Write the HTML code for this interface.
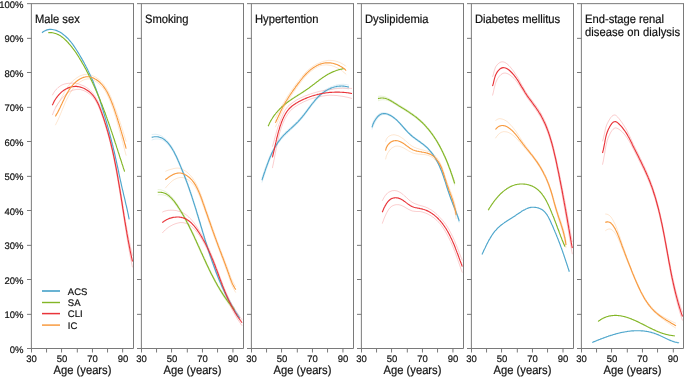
<!DOCTYPE html><html><head><meta charset="utf-8"><style>html,body{margin:0;padding:0;background:#fff;width:685px;height:377px;overflow:hidden}svg{display:block}text{font-family:"Liberation Sans",sans-serif;fill:#111}svg text{will-change:transform;text-rendering:geometricPrecision;stroke:#111;stroke-width:0.2px}</style></head><body>
<svg width="685" height="377" viewBox="0 0 685 377">
<g stroke="#7a7a7a" stroke-width="1" fill="none">
<path d="M31.37,3.65 V348.5 M27.00,348.5 H133.5 V3.65 M27.00,3.65 H134.0"/>
<line x1="27.0" y1="314.35" x2="31.5" y2="314.35"/>
<line x1="27.0" y1="279.5" x2="31.5" y2="279.5"/>
<line x1="27.0" y1="245.35" x2="31.5" y2="245.35"/>
<line x1="27.0" y1="210.5" x2="31.5" y2="210.5"/>
<line x1="27.0" y1="176.35" x2="31.5" y2="176.35"/>
<line x1="27.0" y1="141.5" x2="31.5" y2="141.5"/>
<line x1="27.0" y1="107.35" x2="31.5" y2="107.35"/>
<line x1="27.0" y1="72.5" x2="31.5" y2="72.5"/>
<line x1="27.0" y1="38.35" x2="31.5" y2="38.35"/>
<line x1="31.50" y1="348.5" x2="31.50" y2="352.5"/>
<line x1="46.55" y1="348.5" x2="46.55" y2="352.5"/>
<line x1="61.55" y1="348.5" x2="61.55" y2="352.5"/>
<line x1="77.30" y1="348.5" x2="77.30" y2="352.5"/>
<line x1="92.45" y1="348.5" x2="92.45" y2="352.5"/>
<line x1="107.55" y1="348.5" x2="107.55" y2="352.5"/>
<line x1="122.65" y1="348.5" x2="122.65" y2="352.5"/>
<path d="M141.37,3.65 V348.5 M137.00,348.5 H243.5 V3.65 M137.00,3.65 H244.0"/>
<line x1="137.0" y1="314.35" x2="141.5" y2="314.35"/>
<line x1="137.0" y1="279.5" x2="141.5" y2="279.5"/>
<line x1="137.0" y1="245.35" x2="141.5" y2="245.35"/>
<line x1="137.0" y1="210.5" x2="141.5" y2="210.5"/>
<line x1="137.0" y1="176.35" x2="141.5" y2="176.35"/>
<line x1="137.0" y1="141.5" x2="141.5" y2="141.5"/>
<line x1="137.0" y1="107.35" x2="141.5" y2="107.35"/>
<line x1="137.0" y1="72.5" x2="141.5" y2="72.5"/>
<line x1="137.0" y1="38.35" x2="141.5" y2="38.35"/>
<line x1="141.50" y1="348.5" x2="141.50" y2="352.5"/>
<line x1="156.55" y1="348.5" x2="156.55" y2="352.5"/>
<line x1="171.55" y1="348.5" x2="171.55" y2="352.5"/>
<line x1="187.30" y1="348.5" x2="187.30" y2="352.5"/>
<line x1="202.45" y1="348.5" x2="202.45" y2="352.5"/>
<line x1="217.55" y1="348.5" x2="217.55" y2="352.5"/>
<line x1="232.95" y1="348.5" x2="232.95" y2="352.5"/>
<path d="M251.37,3.65 V348.5 M247.00,348.5 H353.5 V3.65 M247.00,3.65 H354.0"/>
<line x1="247.0" y1="314.35" x2="251.5" y2="314.35"/>
<line x1="247.0" y1="279.5" x2="251.5" y2="279.5"/>
<line x1="247.0" y1="245.35" x2="251.5" y2="245.35"/>
<line x1="247.0" y1="210.5" x2="251.5" y2="210.5"/>
<line x1="247.0" y1="176.35" x2="251.5" y2="176.35"/>
<line x1="247.0" y1="141.5" x2="251.5" y2="141.5"/>
<line x1="247.0" y1="107.35" x2="251.5" y2="107.35"/>
<line x1="247.0" y1="72.5" x2="251.5" y2="72.5"/>
<line x1="247.0" y1="38.35" x2="251.5" y2="38.35"/>
<line x1="251.50" y1="348.5" x2="251.50" y2="352.5"/>
<line x1="266.55" y1="348.5" x2="266.55" y2="352.5"/>
<line x1="281.55" y1="348.5" x2="281.55" y2="352.5"/>
<line x1="297.30" y1="348.5" x2="297.30" y2="352.5"/>
<line x1="312.45" y1="348.5" x2="312.45" y2="352.5"/>
<line x1="327.55" y1="348.5" x2="327.55" y2="352.5"/>
<line x1="342.95" y1="348.5" x2="342.95" y2="352.5"/>
<path d="M361.37,3.65 V348.5 M357.00,348.5 H463.5 V3.65 M357.00,3.65 H464.0"/>
<line x1="357.0" y1="314.35" x2="361.5" y2="314.35"/>
<line x1="357.0" y1="279.5" x2="361.5" y2="279.5"/>
<line x1="357.0" y1="245.35" x2="361.5" y2="245.35"/>
<line x1="357.0" y1="210.5" x2="361.5" y2="210.5"/>
<line x1="357.0" y1="176.35" x2="361.5" y2="176.35"/>
<line x1="357.0" y1="141.5" x2="361.5" y2="141.5"/>
<line x1="357.0" y1="107.35" x2="361.5" y2="107.35"/>
<line x1="357.0" y1="72.5" x2="361.5" y2="72.5"/>
<line x1="357.0" y1="38.35" x2="361.5" y2="38.35"/>
<line x1="361.50" y1="348.5" x2="361.50" y2="352.5"/>
<line x1="376.55" y1="348.5" x2="376.55" y2="352.5"/>
<line x1="391.55" y1="348.5" x2="391.55" y2="352.5"/>
<line x1="407.30" y1="348.5" x2="407.30" y2="352.5"/>
<line x1="422.45" y1="348.5" x2="422.45" y2="352.5"/>
<line x1="437.55" y1="348.5" x2="437.55" y2="352.5"/>
<line x1="452.95" y1="348.5" x2="452.95" y2="352.5"/>
<path d="M471.37,3.65 V348.5 M467.00,348.5 H573.5 V3.65 M467.00,3.65 H574.0"/>
<line x1="467.0" y1="314.35" x2="471.5" y2="314.35"/>
<line x1="467.0" y1="279.5" x2="471.5" y2="279.5"/>
<line x1="467.0" y1="245.35" x2="471.5" y2="245.35"/>
<line x1="467.0" y1="210.5" x2="471.5" y2="210.5"/>
<line x1="467.0" y1="176.35" x2="471.5" y2="176.35"/>
<line x1="467.0" y1="141.5" x2="471.5" y2="141.5"/>
<line x1="467.0" y1="107.35" x2="471.5" y2="107.35"/>
<line x1="467.0" y1="72.5" x2="471.5" y2="72.5"/>
<line x1="467.0" y1="38.35" x2="471.5" y2="38.35"/>
<line x1="471.50" y1="348.5" x2="471.50" y2="352.5"/>
<line x1="486.55" y1="348.5" x2="486.55" y2="352.5"/>
<line x1="501.55" y1="348.5" x2="501.55" y2="352.5"/>
<line x1="517.30" y1="348.5" x2="517.30" y2="352.5"/>
<line x1="532.45" y1="348.5" x2="532.45" y2="352.5"/>
<line x1="547.55" y1="348.5" x2="547.55" y2="352.5"/>
<line x1="563.00" y1="348.5" x2="563.00" y2="352.5"/>
<path d="M581.37,3.65 V348.5 M577.00,348.5 H683.5 V3.65 M577.00,3.65 H684.0"/>
<line x1="577.0" y1="314.35" x2="581.5" y2="314.35"/>
<line x1="577.0" y1="279.5" x2="581.5" y2="279.5"/>
<line x1="577.0" y1="245.35" x2="581.5" y2="245.35"/>
<line x1="577.0" y1="210.5" x2="581.5" y2="210.5"/>
<line x1="577.0" y1="176.35" x2="581.5" y2="176.35"/>
<line x1="577.0" y1="141.5" x2="581.5" y2="141.5"/>
<line x1="577.0" y1="107.35" x2="581.5" y2="107.35"/>
<line x1="577.0" y1="72.5" x2="581.5" y2="72.5"/>
<line x1="577.0" y1="38.35" x2="581.5" y2="38.35"/>
<line x1="581.50" y1="348.5" x2="581.50" y2="352.5"/>
<line x1="596.55" y1="348.5" x2="596.55" y2="352.5"/>
<line x1="611.55" y1="348.5" x2="611.55" y2="352.5"/>
<line x1="627.30" y1="348.5" x2="627.30" y2="352.5"/>
<line x1="642.45" y1="348.5" x2="642.45" y2="352.5"/>
<line x1="657.55" y1="348.5" x2="657.55" y2="352.5"/>
<line x1="673.30" y1="348.5" x2="673.30" y2="352.5"/>
</g>
<g font-size="9.5" text-anchor="end">
<text x="23.5" y="352.6">0%</text>
<text x="23.5" y="318.1">10%</text>
<text x="23.5" y="283.6">20%</text>
<text x="23.5" y="249.1">30%</text>
<text x="23.5" y="214.6">40%</text>
<text x="23.5" y="180.1">50%</text>
<text x="23.5" y="145.6">60%</text>
<text x="23.5" y="111.1">70%</text>
<text x="23.5" y="76.6">80%</text>
<text x="23.5" y="42.1">90%</text>
<text x="23.5" y="7.6">100%</text>
</g>
<g font-size="9.5" text-anchor="middle">
<text x="31.50" y="362.2">30</text>
<text x="62.00" y="362.2">50</text>
<text x="92.50" y="362.2">70</text>
<text x="123.00" y="362.2">90</text>
<text x="141.50" y="362.2">30</text>
<text x="172.00" y="362.2">50</text>
<text x="202.50" y="362.2">70</text>
<text x="233.00" y="362.2">90</text>
<text x="251.50" y="362.2">30</text>
<text x="282.00" y="362.2">50</text>
<text x="312.50" y="362.2">70</text>
<text x="343.00" y="362.2">90</text>
<text x="361.50" y="362.2">30</text>
<text x="392.00" y="362.2">50</text>
<text x="422.50" y="362.2">70</text>
<text x="453.00" y="362.2">90</text>
<text x="471.50" y="362.2">30</text>
<text x="502.00" y="362.2">50</text>
<text x="532.50" y="362.2">70</text>
<text x="563.00" y="362.2">90</text>
<text x="581.50" y="362.2">30</text>
<text x="612.00" y="362.2">50</text>
<text x="642.50" y="362.2">70</text>
<text x="673.00" y="362.2">90</text>
</g>
<g font-size="11.2" text-anchor="middle">
<text transform="translate(82.5,373.8) scale(1,1.08)">Age (years)</text>
<text transform="translate(192.5,373.8) scale(1,1.08)">Age (years)</text>
<text transform="translate(302.5,373.8) scale(1,1.08)">Age (years)</text>
<text transform="translate(412.5,373.8) scale(1,1.08)">Age (years)</text>
<text transform="translate(522.5,373.8) scale(1,1.08)">Age (years)</text>
<text transform="translate(632.5,373.8) scale(1,1.08)">Age (years)</text>
</g>
<g font-size="11.2">
<text transform="translate(35.0,22.6) scale(1,1.08)">Male sex</text>
<text transform="translate(145.0,22.6) scale(1,1.08)">Smoking</text>
<text transform="translate(255.0,22.6) scale(1,1.08)">Hypertention</text>
<text transform="translate(365.0,22.6) scale(1,1.08)">Dyslipidemia</text>
<text transform="translate(475.0,22.6) scale(1,1.08)">Diabetes mellitus</text>
<text transform="translate(585.0,22.6) scale(1,1.08)">End-stage renal</text>
<text transform="translate(585.0,36.5) scale(1,1.08)" letter-spacing="0.07">disease on dialysis</text>
</g>
<g stroke-width="1.5">
<line x1="42" y1="291.0" x2="60" y2="291.0" stroke="#4ea6cc" stroke-width="1.7"/>
<text x="67.8" y="294.5" font-size="9.5" stroke="none">ACS</text>
<line x1="42" y1="302.5" x2="60" y2="302.5" stroke="#83b626" stroke-width="1.4"/>
<text x="67.8" y="305.9" font-size="9.5" stroke="none">SA</text>
<line x1="42" y1="313.6" x2="60" y2="313.6" stroke="#e9343a" stroke-width="1.5"/>
<text x="67.8" y="317.3" font-size="9.5" stroke="none">CLI</text>
<line x1="42" y1="325.1" x2="60" y2="325.1" stroke="#f89b40" stroke-width="1.5"/>
<text x="67.8" y="328.7" font-size="9.5" stroke="none">IC</text>
</g>
<g fill="none" stroke-width="0.9" stroke-opacity="0.28">
<path d="M52.3,95.3 52.9,94.2 53.5,93.2 54.1,92.2 54.8,91.1 55.6,90.2 56.4,89.2 57.3,88.4 58.2,87.5 59.2,86.8 60.2,86.0 61.2,85.4 62.4,84.8 63.5,84.4 64.7,84.0 65.9,83.7 67.2,83.5 68.4,83.3 69.7,83.3 71.1,83.2 72.4,83.1 73.7,83.1 75.1,83.2 76.4,83.4 77.8,83.7 79.1,84.1 80.4,84.6 81.7,85.1 83.0,85.6 84.3,86.2 85.5,86.9 86.7,87.7 87.9,88.5 89.0,89.4 90.1,90.4 91.1,91.4 92.1,92.5 93.0,93.5 93.8,94.7 94.7,95.8 95.4,97.0 96.1,98.2 96.8,99.4 97.5,100.6 98.1,101.9 98.7,103.2 99.2,104.5 99.8,105.8 100.3,107.1 100.8,108.4 101.3,109.8 101.8,111.1 102.2,112.4 102.7,113.8 103.2,115.1 103.6,116.5 104.1,117.8 104.5,119.2 104.9,120.5 105.4,121.8 105.8,123.2 106.2,124.5 106.6,125.9 107.0,127.2 107.4,128.6 107.8,129.9 108.2,131.3 108.5,132.7 108.9,134.0 109.3,135.4 109.6,136.7 110.0,138.1 110.3,139.4 110.7,140.7 111.0,142.1 111.3,143.4 111.6,144.7 112.0,146.1 112.3,147.4 112.6,148.7 112.9,150.1 113.2,151.4 113.5,152.8 113.8,154.1 114.1,155.5 114.4,156.8 114.6,158.1 114.9,159.5 115.2,160.8 115.5,162.2 115.7,163.5 116.0,164.9 116.3,166.2 116.5,167.6 116.8,168.9 117.0,170.3 117.3,171.6 117.5,173.0 117.8,174.4 118.0,175.7 118.2,177.1 118.5,178.4 118.7,179.8 118.9,181.1 119.2,182.5 119.4,183.9 119.6,185.2 119.9,186.6 120.1,187.9 120.3,189.3 120.5,190.7 120.8,192.0 121.0,193.4 121.2,194.7 121.4,196.1 121.6,197.5 121.9,198.8 122.1,200.2 122.3,201.6 122.5,202.9 122.7,204.3 122.9,205.7 123.2,207.0 123.4,208.4 123.6,209.7 123.8,211.1 124.0,212.5 124.3,213.8 124.5,215.2 124.7,216.6 124.9,217.9 125.2,219.3 125.4,220.6 125.6,221.9 125.9,223.2 126.1,224.5 126.3,225.8 126.6,227.1 126.8,228.4 127.0,229.7 127.3,231.1 127.5,232.4 127.8,233.7 128.0,235.0 128.3,236.3 128.5,237.6 128.8,238.9 129.1,240.2 129.3,241.5 129.6,242.8 129.9,244.1 130.1,245.4 130.4,246.7 130.7,247.9 131.0,249.2 131.3,250.5 131.6,251.8 131.9,253.1 132.2,254.4 132.5,255.7" stroke="#e9343a" stroke-opacity="0.28"/>
<path d="M52.3,115.1 52.9,113.7 53.5,112.2 54.1,110.7 54.8,109.3 55.6,107.8 56.4,106.3 57.3,104.8 58.2,103.4 59.2,102.0 60.2,100.6 61.2,99.2 62.4,97.9 63.5,96.7 64.7,95.5 65.9,94.4 67.2,93.3 68.4,92.4 69.7,91.5 71.1,90.9 72.4,90.4 73.7,90.0 75.1,89.7 76.4,89.5 77.8,89.4 79.1,89.4 80.4,89.5 81.7,89.9 83.0,90.3 84.3,90.8 85.5,91.4 86.7,92.1 87.9,92.8 89.0,93.6 90.1,94.5 91.1,95.4 92.1,96.3 93.0,97.3 93.8,98.4 94.7,99.5 95.4,100.6 96.1,101.8 96.8,103.1 97.5,104.3 98.1,105.6 98.7,106.9 99.2,108.2 99.8,109.5 100.3,110.9 100.8,112.2 101.3,113.5 101.8,114.9 102.2,116.2 102.7,117.6 103.2,118.9 103.6,120.3 104.1,121.7 104.5,123.0 104.9,124.4 105.4,125.7 105.8,127.1 106.2,128.4 106.6,129.8 107.0,131.2 107.4,132.5 107.8,133.9 108.2,135.2 108.5,136.6 108.9,138.0 109.3,139.3 109.6,140.7 110.0,142.1 110.3,143.5 110.7,144.9 111.0,146.3 111.3,147.7 111.6,149.1 112.0,150.5 112.3,151.9 112.6,153.3 112.9,154.7 113.2,156.1 113.5,157.5 113.8,158.9 114.1,160.3 114.4,161.7 114.6,163.1 114.9,164.5 115.2,165.9 115.5,167.3 115.7,168.7 116.0,170.1 116.3,171.5 116.5,172.9 116.8,174.3 117.0,175.7 117.3,177.1 117.5,178.5 117.8,179.9 118.0,181.3 118.2,182.7 118.5,184.1 118.7,185.5 118.9,186.9 119.2,188.3 119.4,189.7 119.6,191.1 119.9,192.6 120.1,194.0 120.3,195.4 120.5,196.8 120.8,198.2 121.0,199.6 121.2,201.0 121.4,202.4 121.6,203.8 121.9,205.2 122.1,206.6 122.3,208.0 122.5,209.4 122.7,210.8 122.9,212.2 123.2,213.6 123.4,215.1 123.6,216.5 123.8,217.9 124.0,219.3 124.3,220.7 124.5,222.1 124.7,223.5 124.9,224.9 125.2,226.4 125.4,227.8 125.6,229.3 125.9,230.7 126.1,232.2 126.3,233.6 126.6,235.1 126.8,236.6 127.0,238.0 127.3,239.5 127.5,240.9 127.8,242.4 128.0,243.9 128.3,245.3 128.5,246.8 128.8,248.2 129.1,249.7 129.3,251.2 129.6,252.6 129.9,254.1 130.1,255.6 130.4,257.0 130.7,258.5 131.0,260.0 131.3,261.5 131.6,262.9 131.9,264.4 132.2,265.9 132.5,267.3" stroke="#e9343a" stroke-opacity="0.28"/>
<path d="M55.3,107.4 55.8,106.8 56.2,106.2 56.6,105.6 57.1,105.0 57.5,104.4 57.9,103.8 58.3,103.1 58.7,102.5 59.1,101.8 59.5,101.1 59.9,100.5 60.3,99.8 60.6,99.1 61.0,98.4 61.4,97.7 61.8,97.0 62.1,96.4 62.5,95.7 62.9,95.0 63.3,94.3 63.7,93.6 64.0,92.9 64.4,92.2 64.8,91.5 65.2,90.8 65.6,90.1 66.0,89.4 66.5,88.8 66.9,88.1 67.3,87.4 67.8,86.8 68.2,86.1 68.7,85.5 69.1,84.9 69.6,84.3 70.1,83.7 70.6,83.1 71.2,82.5 71.7,82.0 72.3,81.4 72.8,80.9 73.4,80.4 74.0,80.0 74.6,79.5 75.3,79.0 75.9,78.5 76.6,78.0 77.3,77.5 78.0,77.1 78.8,76.6 79.5,76.2 80.3,75.8 81.1,75.5 81.9,75.2 82.7,75.0 83.5,74.7 84.3,74.6 85.1,74.5 86.0,74.4 86.8,74.4 87.6,74.5 88.5,74.6 89.3,74.8 90.1,75.0 91.0,75.2 91.8,75.4 92.6,75.7 93.4,76.1 94.2,76.4 94.9,76.8 95.7,77.2 96.4,77.7 97.1,78.2 97.8,78.7 98.5,79.2 99.1,79.7 99.8,80.3 100.4,80.8 101.0,81.4 101.6,82.0 102.2,82.7 102.7,83.3 103.3,84.0 103.8,84.7 104.3,85.4 104.8,86.1 105.3,86.8 105.8,87.5 106.2,88.1 106.7,88.9 107.1,89.6 107.5,90.3 107.9,91.0 108.3,91.8 108.7,92.5 109.1,93.3 109.5,94.1 109.9,94.9 110.2,95.6 110.6,96.4 110.9,97.2 111.3,98.0 111.6,98.8 111.9,99.6 112.2,100.4 112.6,101.2 112.9,102.0 113.2,102.8 113.5,103.6 113.8,104.4 114.1,105.2 114.4,106.0 114.7,106.8 114.9,107.6 115.2,108.4 115.5,109.1 115.8,109.8 116.0,110.6 116.3,111.3 116.6,112.0 116.9,112.8 117.1,113.5 117.4,114.3 117.6,115.0 117.9,115.7 118.1,116.5 118.4,117.2 118.6,118.0 118.9,118.7 119.1,119.4 119.4,120.2 119.6,120.9 119.9,121.7 120.1,122.4 120.4,123.2 120.6,123.9 120.8,124.6 121.1,125.4 121.3,126.1 121.6,126.9 121.8,127.7 122.0,128.4 122.3,129.2 122.5,129.9 122.8,130.7 123.0,131.4 123.2,132.2 123.5,133.0 123.7,133.7 124.0,134.5 124.2,135.3 124.4,136.1 124.7,136.8 124.9,137.6 125.2,138.4 125.4,139.2 125.7,140.0 125.9,140.7 126.2,141.6" stroke="#f89b40" stroke-opacity="0.28"/>
<path d="M55.3,125.2 55.8,124.4 56.2,123.5 56.6,122.6 57.1,121.8 57.5,120.9 57.9,120.0 58.3,119.1 58.7,118.2 59.1,117.4 59.5,116.5 59.9,115.5 60.3,114.6 60.6,113.7 61.0,112.8 61.4,111.9 61.8,111.0 62.1,110.1 62.5,109.1 62.9,108.2 63.3,107.3 63.7,106.4 64.0,105.5 64.4,104.5 64.8,103.6 65.2,102.7 65.6,101.8 66.0,100.9 66.5,100.0 66.9,99.2 67.3,98.3 67.8,97.4 68.2,96.5 68.7,95.7 69.1,94.8 69.6,94.0 70.1,93.1 70.6,92.3 71.2,91.5 71.7,90.6 72.3,89.8 72.8,89.0 73.4,88.2 74.0,87.4 74.6,86.7 75.3,86.0 75.9,85.3 76.6,84.7 77.3,84.0 78.0,83.4 78.8,82.9 79.5,82.3 80.3,81.8 81.1,81.3 81.9,80.8 82.7,80.4 83.5,80.0 84.3,79.7 85.1,79.4 86.0,79.2 86.8,79.0 87.6,78.9 88.5,78.9 89.3,78.9 90.1,79.0 91.0,79.2 91.8,79.5 92.6,79.8 93.4,80.1 94.2,80.5 94.9,80.9 95.7,81.4 96.4,81.9 97.1,82.3 97.8,82.9 98.5,83.4 99.1,83.9 99.8,84.5 100.4,85.1 101.0,85.7 101.6,86.4 102.2,87.0 102.7,87.7 103.3,88.3 103.8,89.0 104.3,89.8 104.8,90.5 105.3,91.2 105.8,92.0 106.2,92.9 106.7,93.7 107.1,94.5 107.5,95.4 107.9,96.2 108.3,97.1 108.7,97.9 109.1,98.8 109.5,99.7 109.9,100.5 110.2,101.4 110.6,102.3 110.9,103.2 111.3,104.1 111.6,104.9 111.9,105.8 112.2,106.7 112.6,107.6 112.9,108.5 113.2,109.4 113.5,110.2 113.8,111.1 114.1,112.0 114.4,112.9 114.7,113.7 114.9,114.6 115.2,115.5 115.5,116.4 115.8,117.3 116.0,118.2 116.3,119.1 116.6,120.1 116.9,121.0 117.1,121.9 117.4,122.8 117.6,123.7 117.9,124.6 118.1,125.5 118.4,126.4 118.6,127.3 118.9,128.2 119.1,129.1 119.4,130.0 119.6,130.9 119.9,131.8 120.1,132.7 120.4,133.6 120.6,134.5 120.8,135.4 121.1,136.3 121.3,137.2 121.6,138.1 121.8,139.0 122.0,139.9 122.3,140.8 122.5,141.7 122.8,142.6 123.0,143.5 123.2,144.4 123.5,145.4 123.7,146.3 124.0,147.2 124.2,148.1 124.4,149.1 124.7,150.0 124.9,150.9 125.2,151.9 125.4,152.8 125.7,153.8 125.9,154.7 126.2,155.6" stroke="#f89b40" stroke-opacity="0.28"/>
<path d="M151.7,134.6 153.1,134.4 154.5,134.3 155.8,134.3 157.1,134.5 158.3,134.8 159.5,135.2 160.7,135.6 161.8,136.2 162.9,136.9 163.9,137.7 164.9,138.5 165.8,139.4 166.8,140.2 167.7,141.2 168.5,142.2 169.3,143.2 170.1,144.3 170.9,145.3 171.6,146.4 172.3,147.6 173.0,148.7 173.7,149.9 174.3,151.1 174.9,152.3 175.5,153.5 176.1,154.7 176.7,155.9 177.2,157.1 177.8,158.4 178.3,159.6 178.9,160.8 179.4,162.1 179.9,163.3 180.4,164.5 180.9,165.7 181.4,166.9 181.9,168.2 182.4,169.4 182.9,170.6 183.4,171.8 183.9,173.0 184.4,174.2 184.8,175.4 185.3,176.7 185.8,177.9 186.2,179.1 186.7,180.3 187.1,181.5 187.6,182.7 188.0,184.0 188.4,185.2 188.9,186.4 189.3,187.7 189.7,188.9 190.1,190.1 190.6,191.4 191.0,192.6 191.4,193.9 191.8,195.1 192.2,196.3 192.6,197.6 193.0,198.8 193.4,200.1 193.8,201.3 194.2,202.6 194.6,203.8 195.0,205.1 195.4,206.3 195.8,207.6 196.2,208.9 196.5,210.1 196.9,211.4 197.3,212.6 197.7,213.9 198.1,215.1 198.5,216.4 198.8,217.7 199.2,218.9 199.6,220.2 200.0,221.5 200.4,222.7 200.7,224.0 201.1,225.2 201.5,226.5 201.9,227.8 202.2,229.0 202.6,230.3 203.0,231.6 203.4,232.8 203.8,234.1 204.2,235.4 204.5,236.6 204.9,237.9 205.3,239.1 205.7,240.4 206.1,241.7 206.5,242.9 206.9,244.2 207.3,245.4 207.7,246.7 208.1,247.9 208.5,249.2 208.9,250.4 209.3,251.7 209.7,252.9 210.1,254.2 210.5,255.4 211.0,256.7 211.4,257.9 211.8,259.2 212.2,260.4 212.7,261.7 213.1,262.9 213.6,264.1 214.0,265.4 214.5,266.6 214.9,267.8 215.4,269.1 215.8,270.3 216.3,271.5 216.8,272.7 217.3,274.0 217.7,275.2 218.2,276.4 218.7,277.6 219.2,278.8 219.7,280.0 220.2,281.2 220.8,282.4 221.3,283.6 221.8,284.8 222.3,285.9 222.9,287.1 223.4,288.3 224.0,289.4 224.5,290.6 225.1,291.7 225.7,292.9 226.3,294.0 226.9,295.2 227.5,296.3 228.1,297.4 228.7,298.6 229.3,299.7 229.9,300.8 230.6,302.0 231.2,303.1 231.8,304.2 232.5,305.3 233.2,306.4 233.9,307.5 234.5,308.6 235.2,309.7 235.9,310.8 236.7,311.8 237.4,312.9 238.1,314.0 238.9,315.1 239.6,316.1" stroke="#4ea6cc" stroke-opacity="0.2"/>
<path d="M151.7,140.1 153.1,139.6 154.5,139.2 155.8,139.0 157.1,139.0 158.3,139.0 159.5,139.2 160.7,139.5 161.8,139.8 162.9,140.3 163.9,140.9 164.9,141.5 165.8,142.4 166.8,143.2 167.7,144.2 168.5,145.1 169.3,146.2 170.1,147.2 170.9,148.3 171.6,149.4 172.3,150.5 173.0,151.6 173.7,152.8 174.3,154.0 174.9,155.2 175.5,156.4 176.1,157.6 176.7,158.8 177.2,160.0 177.8,161.2 178.3,162.5 178.9,163.7 179.4,164.9 179.9,166.1 180.4,167.3 180.9,168.5 181.4,169.8 181.9,171.0 182.4,172.2 182.9,173.4 183.4,174.6 183.9,175.8 184.4,177.0 184.8,178.2 185.3,179.4 185.8,180.6 186.2,181.9 186.7,183.1 187.1,184.3 187.6,185.5 188.0,186.7 188.4,187.9 188.9,189.2 189.3,190.4 189.7,191.6 190.1,192.9 190.6,194.1 191.0,195.3 191.4,196.6 191.8,197.8 192.2,199.0 192.6,200.3 193.0,201.5 193.4,202.8 193.8,204.0 194.2,205.3 194.6,206.5 195.0,207.8 195.4,209.0 195.8,210.3 196.2,211.5 196.5,212.8 196.9,214.0 197.3,215.3 197.7,216.5 198.1,217.8 198.5,219.0 198.8,220.3 199.2,221.6 199.6,222.8 200.0,224.1 200.4,225.3 200.7,226.6 201.1,227.9 201.5,229.1 201.9,230.4 202.2,231.6 202.6,232.9 203.0,234.1 203.4,235.4 203.8,236.7 204.2,237.9 204.5,239.2 204.9,240.4 205.3,241.7 205.7,243.0 206.1,244.2 206.5,245.5 206.9,246.7 207.3,248.0 207.7,249.2 208.1,250.5 208.5,251.7 208.9,253.0 209.3,254.2 209.7,255.5 210.1,256.7 210.5,257.9 211.0,259.2 211.4,260.4 211.8,261.7 212.2,262.9 212.7,264.1 213.1,265.4 213.6,266.6 214.0,267.8 214.5,269.1 214.9,270.3 215.4,271.5 215.8,272.7 216.3,274.0 216.8,275.2 217.3,276.4 217.7,277.6 218.2,278.8 218.7,280.0 219.2,281.2 219.7,282.4 220.2,283.6 220.8,284.9 221.3,286.1 221.8,287.3 222.3,288.5 222.9,289.7 223.4,290.9 224.0,292.1 224.5,293.3 225.1,294.5 225.7,295.7 226.3,296.9 226.9,298.1 227.5,299.3 228.1,300.5 228.7,301.7 229.3,302.8 229.9,304.0 230.6,305.2 231.2,306.4 231.8,307.5 232.5,308.7 233.2,309.8 233.9,311.0 234.5,312.1 235.2,313.3 235.9,314.4 236.7,315.6 237.4,316.7 238.1,317.8 238.9,319.0 239.6,320.1" stroke="#4ea6cc" stroke-opacity="0.2"/>
<path d="M157.7,189.6 158.7,189.6 159.6,189.7 160.6,189.8 161.5,190.0 162.4,190.3 163.2,190.6 164.0,190.9 164.8,191.3 165.6,191.7 166.4,192.2 167.1,192.7 167.8,193.2 168.5,193.8 169.2,194.4 169.8,195.0 170.5,195.7 171.1,196.3 171.7,196.9 172.3,197.6 172.9,198.3 173.5,199.0 174.1,199.7 174.6,200.5 175.2,201.2 175.7,201.9 176.2,202.7 176.8,203.5 177.3,204.2 177.8,205.0 178.3,205.7 178.8,206.5 179.3,207.3 179.8,208.1 180.3,208.8 180.8,209.6 181.2,210.4 181.7,211.2 182.2,212.0 182.6,212.8 183.1,213.5 183.6,214.3 184.0,215.1 184.4,215.9 184.9,216.7 185.3,217.5 185.8,218.3 186.2,219.1 186.6,220.0 187.0,220.8 187.5,221.6 187.9,222.4 188.3,223.2 188.7,224.0 189.1,224.8 189.5,225.7 189.9,226.5 190.3,227.3 190.7,228.1 191.1,228.9 191.5,229.8 191.9,230.6 192.3,231.4 192.7,232.2 193.1,233.1 193.5,233.9 193.9,234.7 194.3,235.5 194.6,236.4 195.0,237.2 195.4,238.0 195.8,238.9 196.2,239.7 196.5,240.5 196.9,241.4 197.3,242.2 197.7,243.0 198.0,243.9 198.4,244.7 198.8,245.5 199.2,246.4 199.5,247.2 199.9,248.0 200.3,248.9 200.7,249.7 201.0,250.5 201.4,251.3 201.8,252.2 202.2,253.0 202.5,253.8 202.9,254.7 203.3,255.5 203.7,256.3 204.0,257.2 204.4,258.0 204.8,258.8 205.2,259.6 205.6,260.5 205.9,261.3 206.3,262.1 206.7,263.0 207.1,263.8 207.5,264.6 207.9,265.4 208.3,266.2 208.6,267.1 209.0,267.9 209.4,268.7 209.8,269.5 210.2,270.3 210.6,271.1 211.0,272.0 211.4,272.8 211.8,273.6 212.3,274.4 212.7,275.2 213.1,276.0 213.5,276.8 213.9,277.6 214.3,278.4 214.8,279.2 215.2,280.0 215.6,280.8 216.1,281.6 216.5,282.4 217.0,283.2 217.4,284.0 217.8,284.7 218.3,285.5 218.8,286.3 219.2,287.1 219.7,287.9 220.1,288.6 220.6,289.4 221.1,290.1 221.6,290.9 222.1,291.6 222.5,292.3 223.0,293.1 223.5,293.8 224.0,294.5 224.5,295.3 225.0,296.0 225.6,296.7 226.1,297.4 226.6,298.1 227.1,298.8 227.7,299.5 228.2,300.2 228.7,300.9 229.3,301.6 229.9,302.3 230.4,303.0 231.0,303.7 231.5,304.4 232.1,305.1 232.7,305.7 233.3,306.4 233.9,307.1 234.5,307.7" stroke="#83b626" stroke-opacity="0.2"/>
<path d="M157.7,195.0 158.7,194.8 159.6,194.7 160.6,194.7 161.5,194.7 162.4,194.8 163.2,194.9 164.0,195.1 164.8,195.3 165.6,195.6 166.4,195.9 167.1,196.3 167.8,196.7 168.5,197.1 169.2,197.6 169.8,198.1 170.5,198.7 171.1,199.3 171.7,199.9 172.3,200.6 172.9,201.3 173.5,202.0 174.1,202.7 174.6,203.4 175.2,204.1 175.7,204.9 176.2,205.6 176.8,206.4 177.3,207.1 177.8,207.9 178.3,208.6 178.8,209.4 179.3,210.2 179.8,210.9 180.3,211.7 180.8,212.5 181.2,213.3 181.7,214.0 182.2,214.8 182.6,215.6 183.1,216.4 183.6,217.2 184.0,218.0 184.4,218.8 184.9,219.6 185.3,220.4 185.8,221.2 186.2,222.0 186.6,222.8 187.0,223.6 187.5,224.4 187.9,225.2 188.3,226.0 188.7,226.8 189.1,227.6 189.5,228.4 189.9,229.2 190.3,230.0 190.7,230.9 191.1,231.7 191.5,232.5 191.9,233.3 192.3,234.1 192.7,235.0 193.1,235.8 193.5,236.6 193.9,237.4 194.3,238.3 194.6,239.1 195.0,239.9 195.4,240.7 195.8,241.6 196.2,242.4 196.5,243.2 196.9,244.0 197.3,244.9 197.7,245.7 198.0,246.5 198.4,247.3 198.8,248.2 199.2,249.0 199.5,249.8 199.9,250.7 200.3,251.5 200.7,252.3 201.0,253.1 201.4,254.0 201.8,254.8 202.2,255.6 202.5,256.5 202.9,257.3 203.3,258.1 203.7,258.9 204.0,259.8 204.4,260.6 204.8,261.4 205.2,262.2 205.6,263.0 205.9,263.9 206.3,264.7 206.7,265.5 207.1,266.3 207.5,267.1 207.9,268.0 208.3,268.8 208.6,269.6 209.0,270.4 209.4,271.2 209.8,272.0 210.2,272.8 210.6,273.7 211.0,274.5 211.4,275.3 211.8,276.1 212.3,276.9 212.7,277.7 213.1,278.5 213.5,279.3 213.9,280.1 214.3,280.9 214.8,281.7 215.2,282.5 215.6,283.2 216.1,284.0 216.5,284.8 217.0,285.6 217.4,286.4 217.8,287.2 218.3,288.0 218.8,288.7 219.2,289.5 219.7,290.3 220.1,291.1 220.6,291.8 221.1,292.6 221.6,293.4 222.1,294.2 222.5,295.0 223.0,295.8 223.5,296.6 224.0,297.4 224.5,298.1 225.0,298.9 225.6,299.7 226.1,300.5 226.6,301.2 227.1,302.0 227.7,302.7 228.2,303.5 228.7,304.3 229.3,305.0 229.9,305.8 230.4,306.5 231.0,307.3 231.5,308.0 232.1,308.8 232.7,309.5 233.3,310.2 233.9,311.0 234.5,311.7" stroke="#83b626" stroke-opacity="0.2"/>
<path d="M162.3,212.2 163.0,211.8 163.7,211.5 164.5,211.2 165.3,211.0 166.1,210.8 166.9,210.6 167.7,210.4 168.6,210.3 169.5,210.3 170.4,210.2 171.3,210.2 172.2,210.2 173.1,210.2 174.0,210.3 175.0,210.4 175.9,210.5 176.8,210.7 177.7,211.0 178.6,211.2 179.5,211.5 180.4,211.8 181.3,212.1 182.1,212.5 183.0,212.9 183.8,213.3 184.6,213.8 185.4,214.3 186.1,214.9 186.9,215.4 187.6,216.0 188.3,216.7 189.0,217.3 189.7,218.0 190.4,218.7 191.1,219.3 191.7,220.0 192.3,220.8 192.9,221.5 193.6,222.3 194.2,223.0 194.7,223.8 195.3,224.6 195.9,225.4 196.4,226.2 197.0,227.0 197.5,227.9 198.0,228.7 198.5,229.5 199.1,230.4 199.6,231.2 200.1,232.1 200.6,232.8 201.0,233.6 201.5,234.4 202.0,235.2 202.4,236.0 202.9,236.8 203.3,237.6 203.8,238.4 204.2,239.2 204.7,240.0 205.1,240.8 205.5,241.7 205.9,242.5 206.3,243.3 206.7,244.1 207.1,244.9 207.5,245.8 207.9,246.6 208.3,247.4 208.7,248.2 209.1,249.1 209.4,249.9 209.8,250.7 210.2,251.6 210.5,252.4 210.9,253.3 211.2,254.1 211.6,254.9 211.9,255.8 212.3,256.6 212.6,257.5 213.0,258.3 213.3,259.2 213.6,260.0 214.0,260.9 214.3,261.7 214.6,262.6 215.0,263.4 215.3,264.3 215.6,265.1 215.9,266.0 216.2,266.8 216.6,267.7 216.9,268.5 217.2,269.4 217.5,270.2 217.8,271.1 218.2,271.9 218.5,272.8 218.8,273.6 219.1,274.5 219.4,275.4 219.7,276.2 220.1,277.1 220.4,277.9 220.7,278.8 221.0,279.6 221.3,280.5 221.7,281.3 222.0,282.2 222.3,283.0 222.6,283.9 223.0,284.7 223.3,285.6 223.6,286.4 224.0,287.2 224.3,288.1 224.7,288.9 225.0,289.8 225.3,290.6 225.7,291.4 226.0,292.2 226.4,293.0 226.8,293.8 227.1,294.6 227.5,295.4 227.9,296.2 228.2,297.0 228.6,297.8 229.0,298.6 229.4,299.4 229.8,300.2 230.2,301.0 230.6,301.8 231.0,302.6 231.4,303.4 231.8,304.1 232.2,304.9 232.7,305.7 233.1,306.5 233.6,307.2 234.0,308.0 234.5,308.7 234.9,309.5 235.4,310.3 235.9,311.0 236.3,311.7 236.8,312.5 237.3,313.2 237.8,314.0 238.3,314.7 238.8,315.4 239.4,316.1 239.9,316.9 240.4,317.6 241.0,318.3 241.5,319.0 242.1,319.7" stroke="#e9343a" stroke-opacity="0.28"/>
<path d="M162.3,233.0 163.0,232.2 163.7,231.4 164.5,230.7 165.3,229.9 166.1,229.2 166.9,228.5 167.7,227.9 168.6,227.2 169.5,226.6 170.4,226.1 171.3,225.6 172.2,225.1 173.1,224.7 174.0,224.3 175.0,223.9 175.9,223.6 176.8,223.3 177.7,223.1 178.6,222.9 179.5,222.7 180.4,222.6 181.3,222.6 182.1,222.6 183.0,222.7 183.8,222.8 184.6,223.0 185.4,223.2 186.1,223.4 186.9,223.7 187.6,224.0 188.3,224.3 189.0,224.7 189.7,225.1 190.4,225.6 191.1,226.1 191.7,226.6 192.3,227.2 192.9,227.7 193.6,228.3 194.2,228.9 194.7,229.6 195.3,230.2 195.9,230.9 196.4,231.6 197.0,232.2 197.5,232.9 198.0,233.6 198.5,234.3 199.1,235.0 199.6,235.7 200.1,236.5 200.6,237.2 201.0,238.0 201.5,238.8 202.0,239.6 202.4,240.4 202.9,241.2 203.3,242.0 203.8,242.8 204.2,243.6 204.7,244.4 205.1,245.2 205.5,246.0 205.9,246.8 206.3,247.6 206.7,248.4 207.1,249.2 207.5,250.0 207.9,250.9 208.3,251.7 208.7,252.5 209.1,253.3 209.4,254.2 209.8,255.0 210.2,255.8 210.5,256.6 210.9,257.5 211.2,258.3 211.6,259.1 211.9,260.0 212.3,260.8 212.6,261.7 213.0,262.5 213.3,263.3 213.6,264.2 214.0,265.0 214.3,265.9 214.6,266.7 215.0,267.6 215.3,268.4 215.6,269.3 215.9,270.1 216.2,271.0 216.6,271.8 216.9,272.7 217.2,273.5 217.5,274.4 217.8,275.2 218.2,276.0 218.5,276.9 218.8,277.7 219.1,278.6 219.4,279.4 219.7,280.3 220.1,281.1 220.4,282.0 220.7,282.8 221.0,283.7 221.3,284.5 221.7,285.4 222.0,286.2 222.3,287.1 222.6,287.9 223.0,288.7 223.3,289.6 223.6,290.4 224.0,291.3 224.3,292.1 224.7,292.9 225.0,293.8 225.3,294.6 225.7,295.5 226.0,296.3 226.4,297.2 226.8,298.0 227.1,298.9 227.5,299.7 227.9,300.6 228.2,301.4 228.6,302.3 229.0,303.1 229.4,303.9 229.8,304.8 230.2,305.6 230.6,306.5 231.0,307.3 231.4,308.1 231.8,308.9 232.2,309.8 232.7,310.6 233.1,311.4 233.6,312.2 234.0,313.0 234.5,313.9 234.9,314.7 235.4,315.5 235.9,316.3 236.3,317.1 236.8,317.9 237.3,318.7 237.8,319.5 238.3,320.3 238.8,321.0 239.4,321.8 239.9,322.6 240.4,323.4 241.0,324.2 241.5,324.9 242.1,325.7" stroke="#e9343a" stroke-opacity="0.28"/>
<path d="M165.3,171.4 165.9,171.1 166.6,170.8 167.3,170.5 168.1,170.2 168.9,169.9 169.7,169.7 170.5,169.4 171.4,169.2 172.3,169.0 173.1,168.7 174.1,168.5 175.0,168.3 175.9,168.2 176.8,168.1 177.7,168.1 178.7,168.2 179.6,168.3 180.5,168.6 181.4,168.9 182.3,169.3 183.1,169.7 184.0,170.2 184.8,170.7 185.7,171.2 186.5,171.8 187.2,172.4 188.0,173.1 188.7,173.7 189.4,174.4 190.1,175.1 190.7,175.8 191.4,176.6 192.0,177.3 192.5,178.1 193.1,178.9 193.7,179.7 194.2,180.5 194.7,181.3 195.2,182.2 195.7,183.0 196.1,183.8 196.6,184.6 197.0,185.4 197.4,186.3 197.8,187.1 198.2,188.0 198.6,188.9 199.0,189.8 199.4,190.6 199.7,191.5 200.1,192.4 200.4,193.3 200.8,194.2 201.1,195.1 201.4,196.1 201.8,197.0 202.1,197.9 202.4,198.8 202.7,199.7 203.0,200.6 203.3,201.5 203.7,202.4 204.0,203.3 204.3,204.2 204.6,205.1 204.9,206.0 205.2,206.9 205.5,207.8 205.8,208.7 206.2,209.6 206.5,210.5 206.8,211.4 207.1,212.3 207.4,213.2 207.7,214.1 208.0,214.9 208.3,215.8 208.6,216.7 208.9,217.6 209.2,218.5 209.5,219.4 209.9,220.3 210.2,221.1 210.5,222.0 210.8,222.9 211.1,223.8 211.4,224.7 211.7,225.5 212.0,226.4 212.3,227.3 212.6,228.2 212.9,229.1 213.3,229.9 213.6,230.8 213.9,231.7 214.2,232.6 214.5,233.5 214.8,234.3 215.1,235.2 215.5,236.1 215.8,237.0 216.1,237.9 216.4,238.7 216.7,239.6 217.1,240.5 217.4,241.4 217.7,242.3 218.0,243.2 218.4,244.0 218.7,244.9 219.0,245.8 219.4,246.7 219.7,247.6 220.0,248.5 220.4,249.3 220.7,250.2 221.0,251.1 221.4,251.9 221.7,252.8 222.0,253.7 222.4,254.5 222.7,255.4 223.1,256.2 223.4,257.1 223.7,258.0 224.1,258.8 224.4,259.7 224.7,260.6 225.1,261.4 225.4,262.3 225.7,263.2 226.0,264.0 226.4,264.9 226.7,265.8 227.0,266.6 227.3,267.5 227.6,268.4 227.9,269.2 228.3,270.1 228.6,270.9 228.9,271.8 229.2,272.7 229.5,273.5 229.8,274.4 230.1,275.2 230.4,276.1 230.7,276.9 231.1,277.8 231.4,278.6 231.8,279.4 232.1,280.3 232.5,281.1 232.9,281.9 233.4,282.7 233.8,283.5 234.3,284.3 234.7,285.1 235.3,285.8 235.8,286.6" stroke="#f89b40" stroke-opacity="0.28"/>
<path d="M165.3,188.2 165.9,187.4 166.6,186.6 167.3,185.8 168.1,185.0 168.9,184.1 169.7,183.3 170.5,182.5 171.4,181.7 172.3,180.9 173.1,180.3 174.1,179.7 175.0,179.2 175.9,178.8 176.8,178.4 177.7,178.0 178.7,177.8 179.6,177.6 180.5,177.5 181.4,177.5 182.3,177.5 183.1,177.7 184.0,177.9 184.8,178.2 185.7,178.6 186.5,179.0 187.2,179.4 188.0,179.8 188.7,180.3 189.4,180.8 190.1,181.4 190.7,181.9 191.4,182.5 192.0,183.1 192.5,183.7 193.1,184.4 193.7,185.0 194.2,185.7 194.7,186.4 195.2,187.1 195.7,187.9 196.1,188.7 196.6,189.5 197.0,190.3 197.4,191.2 197.8,192.0 198.2,192.9 198.6,193.7 199.0,194.6 199.4,195.5 199.7,196.3 200.1,197.2 200.4,198.1 200.8,199.0 201.1,199.9 201.4,200.8 201.8,201.7 202.1,202.6 202.4,203.5 202.7,204.4 203.0,205.3 203.3,206.2 203.7,207.1 204.0,208.0 204.3,208.9 204.6,209.7 204.9,210.6 205.2,211.5 205.5,212.4 205.8,213.3 206.2,214.2 206.5,215.0 206.8,215.9 207.1,216.8 207.4,217.7 207.7,218.6 208.0,219.4 208.3,220.3 208.6,221.2 208.9,222.1 209.2,222.9 209.5,223.8 209.9,224.7 210.2,225.5 210.5,226.4 210.8,227.3 211.1,228.1 211.4,229.0 211.7,229.9 212.0,230.7 212.3,231.6 212.6,232.5 212.9,233.3 213.3,234.2 213.6,235.1 213.9,236.0 214.2,236.8 214.5,237.7 214.8,238.6 215.1,239.4 215.5,240.3 215.8,241.2 216.1,242.0 216.4,242.9 216.7,243.8 217.1,244.6 217.4,245.5 217.7,246.4 218.0,247.2 218.4,248.1 218.7,249.0 219.0,249.9 219.4,250.7 219.7,251.6 220.0,252.5 220.4,253.4 220.7,254.3 221.0,255.2 221.4,256.1 221.7,257.0 222.0,257.9 222.4,258.8 222.7,259.7 223.1,260.6 223.4,261.5 223.7,262.4 224.1,263.4 224.4,264.3 224.7,265.2 225.1,266.1 225.4,267.0 225.7,267.9 226.0,268.8 226.4,269.7 226.7,270.6 227.0,271.5 227.3,272.4 227.6,273.3 227.9,274.2 228.3,275.1 228.6,276.0 228.9,276.9 229.2,277.8 229.5,278.7 229.8,279.6 230.1,280.5 230.4,281.4 230.7,282.3 231.1,283.1 231.4,284.0 231.8,284.9 232.1,285.8 232.5,286.6 232.9,287.5 233.4,288.4 233.8,289.2 234.3,290.1 234.7,290.9 235.3,291.8 235.8,292.6" stroke="#f89b40" stroke-opacity="0.28"/>
<path d="M261.9,177.8 262.2,177.0 262.4,176.2 262.7,175.4 263.0,174.7 263.3,173.9 263.5,173.1 263.8,172.3 264.1,171.5 264.3,170.7 264.6,169.9 264.9,169.1 265.2,168.3 265.4,167.5 265.7,166.7 266.0,166.0 266.3,165.2 266.6,164.4 266.9,163.6 267.2,162.8 267.5,162.0 267.8,161.2 268.1,160.4 268.4,159.6 268.7,158.8 269.0,158.0 269.3,157.3 269.6,156.5 270.0,155.7 270.3,154.9 270.6,154.2 271.0,153.4 271.3,152.6 271.7,151.9 272.0,151.1 272.4,150.4 272.8,149.6 273.2,148.9 273.6,148.2 274.0,147.4 274.4,146.7 274.8,146.0 275.2,145.3 275.6,144.6 276.1,143.8 276.5,143.1 277.0,142.4 277.4,141.7 277.9,141.0 278.4,140.3 278.9,139.6 279.4,139.0 279.9,138.3 280.4,137.6 280.9,137.0 281.5,136.3 282.0,135.7 282.6,135.1 283.1,134.5 283.7,133.9 284.3,133.3 284.9,132.7 285.5,132.1 286.1,131.5 286.7,130.9 287.3,130.3 288.0,129.7 288.6,129.2 289.2,128.6 289.8,128.0 290.5,127.4 291.1,126.9 291.7,126.3 292.4,125.7 293.0,125.1 293.6,124.6 294.2,124.0 294.9,123.4 295.5,122.8 296.1,122.2 296.7,121.6 297.3,121.0 297.9,120.4 298.5,119.8 299.1,119.2 299.7,118.5 300.3,117.9 300.8,117.2 301.4,116.6 301.9,115.9 302.5,115.2 303.0,114.6 303.6,113.9 304.1,113.2 304.6,112.5 305.2,111.8 305.7,111.2 306.2,110.5 306.7,109.8 307.3,109.1 307.8,108.4 308.3,107.7 308.8,107.0 309.3,106.3 309.9,105.6 310.4,104.9 310.9,104.2 311.4,103.6 311.9,102.9 312.5,102.2 313.0,101.5 313.6,100.9 314.1,100.2 314.6,99.6 315.2,98.9 315.7,98.3 316.3,97.7 316.9,97.0 317.5,96.4 318.0,95.8 318.6,95.2 319.2,94.7 319.9,94.1 320.5,93.5 321.1,93.0 321.7,92.4 322.4,91.9 323.0,91.4 323.7,90.9 324.4,90.4 325.1,90.0 325.8,89.5 326.5,89.1 327.3,88.7 328.0,88.3 328.8,87.9 329.6,87.6 330.3,87.2 331.1,86.8 331.9,86.5 332.8,86.2 333.6,85.9 334.4,85.6 335.2,85.4 336.1,85.1 336.9,84.9 337.8,84.8 338.6,84.6 339.5,84.5 340.4,84.4 341.2,84.4 342.1,84.3 342.9,84.3 343.8,84.3 344.7,84.4 345.5,84.5 346.4,84.6 347.2,84.8 348.1,85.0 348.9,85.2" stroke="#4ea6cc" stroke-opacity="0.2"/>
<path d="M261.9,182.6 262.2,181.8 262.4,181.0 262.7,180.2 263.0,179.4 263.3,178.6 263.5,177.7 263.8,176.9 264.1,176.1 264.3,175.2 264.6,174.4 264.9,173.6 265.2,172.7 265.4,171.9 265.7,171.1 266.0,170.2 266.3,169.4 266.6,168.6 266.9,167.7 267.2,166.9 267.5,166.1 267.8,165.2 268.1,164.4 268.4,163.6 268.7,162.7 269.0,161.9 269.3,161.1 269.6,160.2 270.0,159.4 270.3,158.6 270.6,157.8 271.0,157.0 271.3,156.2 271.7,155.4 272.0,154.5 272.4,153.7 272.8,153.0 273.2,152.2 273.6,151.4 274.0,150.6 274.4,149.8 274.8,149.0 275.2,148.3 275.6,147.5 276.1,146.8 276.5,146.1 277.0,145.4 277.4,144.7 277.9,144.0 278.4,143.3 278.9,142.6 279.4,141.9 279.9,141.2 280.4,140.6 280.9,139.9 281.5,139.3 282.0,138.6 282.6,138.0 283.1,137.4 283.7,136.8 284.3,136.2 284.9,135.6 285.5,135.0 286.1,134.4 286.7,133.8 287.3,133.2 288.0,132.6 288.6,132.0 289.2,131.4 289.8,130.9 290.5,130.3 291.1,129.7 291.7,129.1 292.4,128.5 293.0,128.0 293.6,127.4 294.2,126.8 294.9,126.2 295.5,125.6 296.1,125.0 296.7,124.4 297.3,123.8 297.9,123.1 298.5,122.5 299.1,121.9 299.7,121.2 300.3,120.6 300.8,119.9 301.4,119.3 301.9,118.6 302.5,117.9 303.0,117.3 303.6,116.6 304.1,115.9 304.6,115.2 305.2,114.5 305.7,113.8 306.2,113.1 306.7,112.4 307.3,111.7 307.8,111.0 308.3,110.3 308.8,109.6 309.3,108.9 309.9,108.2 310.4,107.5 310.9,106.9 311.4,106.2 311.9,105.5 312.5,104.8 313.0,104.1 313.6,103.5 314.1,102.8 314.6,102.1 315.2,101.5 315.7,100.8 316.3,100.2 316.9,99.6 317.5,99.0 318.0,98.4 318.6,97.8 319.2,97.2 319.9,96.6 320.5,96.0 321.1,95.5 321.7,94.9 322.4,94.4 323.0,93.9 323.7,93.4 324.4,92.9 325.1,92.4 325.8,92.0 326.5,91.5 327.3,91.1 328.0,90.7 328.8,90.3 329.6,90.0 330.3,89.6 331.1,89.3 331.9,89.1 332.8,88.8 333.6,88.6 334.4,88.4 335.2,88.2 336.1,88.1 336.9,87.9 337.8,87.8 338.6,87.8 339.5,87.7 340.4,87.7 341.2,87.7 342.1,87.7 342.9,87.8 343.8,87.9 344.7,88.0 345.5,88.2 346.4,88.4 347.2,88.6 348.1,88.9 348.9,89.2" stroke="#4ea6cc" stroke-opacity="0.2"/>
<path d="M272.4,146.7 272.6,146.1 272.7,145.5 272.9,145.0 273.1,144.4 273.3,143.8 273.4,143.2 273.6,142.6 273.8,142.0 273.9,141.4 274.1,140.8 274.3,140.2 274.4,139.6 274.6,139.0 274.7,138.3 274.9,137.7 275.1,137.1 275.2,136.5 275.4,135.9 275.6,135.3 275.7,134.7 275.9,134.1 276.1,133.5 276.2,132.9 276.4,132.2 276.6,131.6 276.7,131.0 276.9,130.4 277.1,129.8 277.3,129.2 277.5,128.6 277.7,128.0 277.8,127.5 278.0,126.9 278.2,126.3 278.4,125.7 278.6,125.1 278.8,124.6 279.1,124.0 279.3,123.4 279.5,122.9 279.7,122.3 279.9,121.8 280.2,121.1 280.4,120.5 280.7,119.8 280.9,119.1 281.2,118.4 281.4,117.8 281.7,117.1 282.0,116.5 282.3,115.8 282.5,115.2 282.8,114.5 283.1,113.9 283.4,113.2 283.8,112.6 284.1,112.0 284.4,111.4 284.8,110.8 285.1,110.2 285.5,109.6 285.9,109.1 286.3,108.5 286.7,108.0 287.1,107.5 287.5,106.9 288.0,106.4 288.5,106.0 288.9,105.5 289.4,105.1 289.9,104.6 290.5,104.2 291.0,103.8 291.5,103.4 292.1,103.0 292.7,102.6 293.3,102.2 293.9,101.8 294.5,101.4 295.1,101.0 295.7,100.6 296.3,100.2 297.0,99.8 297.6,99.5 298.3,99.1 298.9,98.8 299.6,98.5 300.3,98.1 300.9,97.8 301.6,97.5 302.3,97.2 302.9,96.9 303.6,96.6 304.3,96.3 305.0,96.0 305.7,95.7 306.4,95.5 307.1,95.2 307.8,95.0 308.5,94.7 309.2,94.5 309.9,94.2 310.6,94.0 311.3,93.7 312.0,93.5 312.7,93.3 313.5,93.0 314.2,92.8 314.9,92.6 315.6,92.4 316.4,92.2 317.1,92.0 317.8,91.8 318.5,91.6 319.3,91.4 320.0,91.2 320.8,91.1 321.5,90.9 322.2,90.8 323.0,90.6 323.7,90.5 324.5,90.4 325.2,90.2 325.9,90.1 326.7,90.0 327.4,89.9 328.2,89.8 328.9,89.7 329.7,89.6 330.4,89.5 331.2,89.4 331.9,89.3 332.7,89.2 333.4,89.0 334.2,88.9 334.9,88.8 335.7,88.7 336.4,88.7 337.2,88.6 337.9,88.5 338.7,88.4 339.4,88.4 340.2,88.3 340.9,88.3 341.7,88.3 342.4,88.2 343.2,88.2 343.9,88.2 344.6,88.2 345.4,88.2 346.1,88.2 346.9,88.2 347.6,88.2 348.3,88.3 349.1,88.3 349.8,88.3 350.5,88.4 351.3,88.4 352.0,88.5" stroke="#e9343a" stroke-opacity="0.28"/>
<path d="M272.4,168.1 272.6,167.3 272.7,166.4 272.9,165.6 273.1,164.7 273.3,163.9 273.4,163.0 273.6,162.2 273.8,161.3 273.9,160.5 274.1,159.6 274.3,158.8 274.4,157.9 274.6,157.1 274.7,156.2 274.9,155.4 275.1,154.5 275.2,153.7 275.4,152.8 275.6,152.0 275.7,151.1 275.9,150.2 276.1,149.4 276.2,148.5 276.4,147.7 276.6,146.8 276.7,145.9 276.9,145.1 277.1,144.2 277.3,143.3 277.5,142.4 277.7,141.6 277.8,140.7 278.0,139.8 278.2,138.9 278.4,138.1 278.6,137.2 278.8,136.3 279.1,135.4 279.3,134.5 279.5,133.6 279.7,132.7 279.9,131.9 280.2,131.1 280.4,130.3 280.7,129.6 280.9,128.8 281.2,128.1 281.4,127.3 281.7,126.6 282.0,125.8 282.3,125.1 282.5,124.3 282.8,123.6 283.1,122.8 283.4,122.1 283.8,121.4 284.1,120.6 284.4,119.9 284.8,119.2 285.1,118.5 285.5,117.8 285.9,117.1 286.3,116.4 286.7,115.8 287.1,115.1 287.5,114.4 288.0,113.8 288.5,113.1 288.9,112.5 289.4,111.9 289.9,111.3 290.5,110.7 291.0,110.1 291.5,109.6 292.1,109.0 292.7,108.6 293.3,108.1 293.9,107.7 294.5,107.2 295.1,106.8 295.7,106.4 296.3,106.0 297.0,105.6 297.6,105.2 298.3,104.8 298.9,104.4 299.6,104.0 300.3,103.7 300.9,103.3 301.6,103.0 302.3,102.6 302.9,102.3 303.6,101.9 304.3,101.6 305.0,101.3 305.7,101.0 306.4,100.7 307.1,100.4 307.8,100.1 308.5,99.8 309.2,99.5 309.9,99.2 310.6,99.0 311.3,98.8 312.0,98.6 312.7,98.3 313.5,98.1 314.2,97.9 314.9,97.7 315.6,97.5 316.4,97.4 317.1,97.2 317.8,97.0 318.5,96.9 319.3,96.7 320.0,96.5 320.8,96.4 321.5,96.3 322.2,96.1 323.0,96.0 323.7,95.9 324.5,95.8 325.2,95.7 325.9,95.6 326.7,95.5 327.4,95.4 328.2,95.4 328.9,95.3 329.7,95.2 330.4,95.2 331.2,95.2 331.9,95.3 332.7,95.3 333.4,95.3 334.2,95.4 334.9,95.4 335.7,95.5 336.4,95.5 337.2,95.6 337.9,95.7 338.7,95.8 339.4,95.9 340.2,96.0 340.9,96.1 341.7,96.2 342.4,96.3 343.2,96.4 343.9,96.6 344.6,96.7 345.4,96.9 346.1,97.0 346.9,97.2 347.6,97.3 348.3,97.5 349.1,97.7 349.8,97.9 350.5,98.1 351.3,98.3 352.0,98.5" stroke="#e9343a" stroke-opacity="0.28"/>
<path d="M275.3,118.4 275.6,117.9 275.9,117.3 276.2,116.8 276.4,116.3 276.7,115.8 277.0,115.3 277.3,114.7 277.5,114.2 277.8,113.7 278.1,113.1 278.4,112.6 278.6,112.1 278.9,111.5 279.2,111.0 279.4,110.5 279.7,109.9 280.0,109.4 280.3,108.8 280.5,108.3 280.8,107.8 281.1,107.2 281.4,106.7 281.7,106.2 282.0,105.6 282.2,105.1 282.5,104.6 282.8,104.1 283.1,103.6 283.4,103.0 283.8,102.5 284.1,102.0 284.4,101.5 284.7,101.0 285.0,100.5 285.4,99.9 285.7,99.4 286.0,98.8 286.4,98.3 286.7,97.7 287.1,97.2 287.4,96.6 287.8,96.1 288.1,95.5 288.5,95.0 288.8,94.5 289.2,93.9 289.5,93.4 289.9,92.9 290.2,92.3 290.6,91.8 291.0,91.3 291.3,90.7 291.7,90.2 292.1,89.7 292.4,89.2 292.8,88.7 293.2,88.1 293.6,87.6 293.9,87.1 294.3,86.6 294.7,86.1 295.1,85.6 295.4,85.0 295.8,84.5 296.2,84.0 296.6,83.5 297.0,83.0 297.4,82.5 297.7,82.0 298.1,81.5 298.5,81.0 298.9,80.5 299.3,80.0 299.7,79.5 300.1,79.0 300.5,78.4 300.9,77.9 301.3,77.4 301.7,76.9 302.1,76.4 302.5,76.0 302.9,75.5 303.3,75.0 303.8,74.5 304.2,74.0 304.6,73.5 305.1,73.0 305.5,72.6 306.0,72.1 306.5,71.6 306.9,71.2 307.4,70.7 307.9,70.3 308.4,69.9 308.9,69.4 309.4,69.0 309.9,68.6 310.4,68.2 310.9,67.8 311.4,67.4 312.0,67.0 312.5,66.6 313.0,66.3 313.6,65.9 314.1,65.6 314.7,65.2 315.2,64.9 315.8,64.6 316.3,64.3 316.9,64.0 317.5,63.8 318.1,63.5 318.6,63.3 319.2,63.0 319.8,62.8 320.4,62.6 321.0,62.3 321.6,62.0 322.2,61.8 322.8,61.6 323.4,61.4 324.0,61.2 324.7,61.1 325.3,60.9 325.9,60.8 326.5,60.7 327.2,60.6 327.8,60.5 328.4,60.4 329.1,60.4 329.7,60.4 330.4,60.4 331.0,60.4 331.7,60.5 332.3,60.5 332.9,60.6 333.6,60.7 334.2,60.8 334.9,60.9 335.5,61.1 336.2,61.3 336.8,61.4 337.4,61.6 338.0,61.8 338.6,62.1 339.3,62.3 339.9,62.5 340.4,62.8 341.0,63.1 341.6,63.4 342.2,63.7 342.7,64.0 343.2,64.3 343.8,64.7 344.3,65.0 344.8,65.4 345.3,65.7 345.7,66.1 346.2,66.5" stroke="#f89b40" stroke-opacity="0.28"/>
<path d="M275.3,127.2 275.6,126.6 275.9,126.0 276.2,125.4 276.4,124.7 276.7,124.1 277.0,123.5 277.3,122.8 277.5,122.2 277.8,121.5 278.1,120.9 278.4,120.3 278.6,119.6 278.9,119.0 279.2,118.3 279.4,117.7 279.7,117.0 280.0,116.4 280.3,115.7 280.5,115.1 280.8,114.4 281.1,113.8 281.4,113.2 281.7,112.5 282.0,111.9 282.2,111.2 282.5,110.6 282.8,109.9 283.1,109.3 283.4,108.7 283.8,108.0 284.1,107.4 284.4,106.7 284.7,106.1 285.0,105.5 285.4,104.9 285.7,104.3 286.0,103.8 286.4,103.2 286.7,102.6 287.1,102.1 287.4,101.5 287.8,100.9 288.1,100.4 288.5,99.8 288.8,99.2 289.2,98.7 289.5,98.1 289.9,97.6 290.2,97.0 290.6,96.5 291.0,95.9 291.3,95.4 291.7,94.8 292.1,94.3 292.4,93.7 292.8,93.2 293.2,92.7 293.6,92.1 293.9,91.6 294.3,91.1 294.7,90.5 295.1,90.0 295.4,89.4 295.8,88.9 296.2,88.4 296.6,87.9 297.0,87.3 297.4,86.8 297.7,86.3 298.1,85.7 298.5,85.2 298.9,84.7 299.3,84.1 299.7,83.6 300.1,83.1 300.5,82.6 300.9,82.0 301.3,81.5 301.7,81.0 302.1,80.5 302.5,80.0 302.9,79.4 303.3,78.9 303.8,78.4 304.2,77.9 304.6,77.4 305.1,76.9 305.5,76.4 306.0,75.9 306.5,75.4 306.9,74.9 307.4,74.5 307.9,74.0 308.4,73.5 308.9,73.1 309.4,72.6 309.9,72.2 310.4,71.7 310.9,71.3 311.4,70.9 312.0,70.5 312.5,70.1 313.0,69.7 313.6,69.3 314.1,68.9 314.7,68.5 315.2,68.2 315.8,67.8 316.3,67.5 316.9,67.2 317.5,66.9 318.1,66.6 318.6,66.3 319.2,66.1 319.8,65.8 320.4,65.6 321.0,65.5 321.6,65.4 322.2,65.2 322.8,65.1 323.4,65.1 324.0,65.0 324.7,65.0 325.3,64.9 325.9,64.9 326.5,64.9 327.2,65.0 327.8,65.0 328.4,65.1 329.1,65.2 329.7,65.3 330.4,65.4 331.0,65.5 331.7,65.7 332.3,65.9 332.9,66.1 333.6,66.3 334.2,66.5 334.9,66.8 335.5,67.1 336.2,67.4 336.8,67.7 337.4,68.0 338.0,68.3 338.6,68.6 339.3,69.0 339.9,69.4 340.4,69.7 341.0,70.1 341.6,70.5 342.2,70.9 342.7,71.4 343.2,71.8 343.8,72.2 344.3,72.7 344.8,73.1 345.3,73.6 345.7,74.1 346.2,74.5" stroke="#f89b40" stroke-opacity="0.28"/>
<path d="M372.0,125.2 372.2,124.5 372.5,123.6 372.8,122.8 373.1,121.9 373.6,121.0 374.0,120.1 374.5,119.2 375.1,118.3 375.7,117.5 376.3,116.6 377.0,115.8 377.7,115.1 378.4,114.5 379.2,113.9 380.0,113.4 380.8,113.0 381.7,112.8 382.5,112.6 383.4,112.6 384.3,112.7 385.2,112.8 386.1,113.0 387.0,113.2 387.9,113.5 388.8,113.9 389.7,114.3 390.5,114.7 391.4,115.2 392.2,115.8 393.0,116.3 393.8,116.9 394.6,117.5 395.3,118.1 396.1,118.7 396.8,119.4 397.5,120.1 398.2,120.8 398.9,121.5 399.6,122.2 400.2,122.9 400.9,123.7 401.6,124.4 402.2,125.2 402.9,125.9 403.5,126.7 404.2,127.4 404.9,128.2 405.5,128.9 406.2,129.7 406.9,130.4 407.5,131.1 408.2,131.8 408.9,132.5 409.7,133.2 410.4,133.9 411.1,134.5 411.9,135.2 412.6,135.8 413.4,136.4 414.2,137.0 415.0,137.6 415.8,138.2 416.6,138.7 417.4,139.3 418.2,139.9 419.0,140.4 419.8,141.0 420.6,141.6 421.3,142.2 422.1,142.8 422.9,143.3 423.7,143.9 424.4,144.6 425.2,145.2 425.9,145.8 426.7,146.5 427.4,147.1 428.1,147.8 428.7,148.5 429.4,149.3 430.0,150.0 430.7,150.7 431.3,151.5 431.9,152.3 432.5,153.1 433.1,153.9 433.6,154.7 434.2,155.5 434.7,156.4 435.2,157.2 435.7,158.1 436.2,158.9 436.7,159.8 437.2,160.6 437.6,161.5 438.1,162.4 438.5,163.3 438.9,164.2 439.4,165.1 439.8,166.0 440.1,166.9 440.5,167.8 440.9,168.7 441.3,169.6 441.6,170.5 442.0,171.4 442.3,172.3 442.6,173.2 443.0,174.2 443.3,175.1 443.6,176.0 443.9,176.9 444.2,177.9 444.5,178.8 444.9,179.7 445.2,180.7 445.5,181.6 445.8,182.5 446.1,183.5 446.3,184.4 446.6,185.3 446.9,186.3 447.2,187.2 447.5,188.1 447.8,189.1 448.1,190.0 448.5,191.0 448.8,191.9 449.1,192.8 449.4,193.7 449.7,194.7 450.1,195.6 450.4,196.5 450.7,197.5 451.1,198.4 451.4,199.3 451.8,200.2 452.1,201.1 452.5,202.1 452.8,203.0 453.2,203.9 453.6,204.8 453.9,205.7 454.3,206.6 454.7,207.6 455.0,208.5 455.4,209.3 455.7,210.2 456.1,211.0 456.4,211.9 456.8,212.8 457.1,213.6 457.4,214.5 457.8,215.4 458.1,216.2 458.4,217.1 458.7,218.0 459.0,218.9 459.3,219.8" stroke="#4ea6cc" stroke-opacity="0.2"/>
<path d="M372.0,129.6 372.2,128.8 372.5,127.9 372.8,127.0 373.1,126.1 373.6,125.1 374.0,124.1 374.5,123.1 375.1,122.1 375.7,121.1 376.3,120.1 377.0,119.2 377.7,118.3 378.4,117.5 379.2,116.7 380.0,116.1 380.8,115.5 381.7,115.1 382.5,114.8 383.4,114.5 384.3,114.4 385.2,114.4 386.1,114.6 387.0,114.8 387.9,115.1 388.8,115.5 389.7,115.9 390.5,116.3 391.4,116.8 392.2,117.4 393.0,117.9 393.8,118.5 394.6,119.1 395.3,119.7 396.1,120.3 396.8,121.0 397.5,121.7 398.2,122.4 398.9,123.1 399.6,123.8 400.2,124.5 400.9,125.3 401.6,126.0 402.2,126.8 402.9,127.5 403.5,128.3 404.2,129.0 404.9,129.8 405.5,130.5 406.2,131.3 406.9,132.0 407.5,132.7 408.2,133.4 408.9,134.1 409.7,134.8 410.4,135.5 411.1,136.1 411.9,136.8 412.6,137.4 413.4,138.0 414.2,138.6 415.0,139.2 415.8,139.8 416.6,140.3 417.4,140.9 418.2,141.5 419.0,142.0 419.8,142.6 420.6,143.2 421.3,143.8 422.1,144.4 422.9,144.9 423.7,145.5 424.4,146.2 425.2,146.8 425.9,147.4 426.7,148.1 427.4,148.7 428.1,149.4 428.7,150.1 429.4,150.9 430.0,151.6 430.7,152.3 431.3,153.1 431.9,153.9 432.5,154.7 433.1,155.5 433.6,156.3 434.2,157.1 434.7,158.0 435.2,158.8 435.7,159.7 436.2,160.5 436.7,161.4 437.2,162.2 437.6,163.1 438.1,164.0 438.5,164.9 438.9,165.8 439.4,166.7 439.8,167.6 440.1,168.5 440.5,169.4 440.9,170.3 441.3,171.2 441.6,172.1 442.0,173.0 442.3,173.9 442.6,174.8 443.0,175.8 443.3,176.7 443.6,177.6 443.9,178.5 444.2,179.5 444.5,180.4 444.9,181.3 445.2,182.3 445.5,183.2 445.8,184.1 446.1,185.1 446.3,186.0 446.6,186.9 446.9,187.9 447.2,188.8 447.5,189.7 447.8,190.7 448.1,191.6 448.5,192.6 448.8,193.5 449.1,194.4 449.4,195.3 449.7,196.3 450.1,197.2 450.4,198.1 450.7,199.1 451.1,200.0 451.4,200.9 451.8,201.8 452.1,202.7 452.5,203.7 452.8,204.6 453.2,205.5 453.6,206.4 453.9,207.3 454.3,208.2 454.7,209.2 455.0,210.1 455.4,211.1 455.7,212.0 456.1,213.0 456.4,214.0 456.8,215.0 457.1,216.0 457.4,216.9 457.8,217.9 458.1,218.9 458.4,219.9 458.7,220.9 459.0,221.9 459.3,222.8" stroke="#4ea6cc" stroke-opacity="0.2"/>
<path d="M378.0,96.4 378.8,96.3 379.7,96.2 380.5,96.1 381.3,96.1 382.0,96.2 382.8,96.3 383.6,96.4 384.3,96.6 385.0,96.8 385.7,97.1 386.4,97.4 387.1,97.7 387.8,98.0 388.4,98.4 389.1,98.8 389.8,99.2 390.4,99.6 391.1,99.9 391.7,100.3 392.3,100.7 393.0,101.1 393.6,101.5 394.3,101.9 394.9,102.3 395.6,102.7 396.2,103.1 396.9,103.5 397.5,103.9 398.2,104.4 398.8,104.8 399.5,105.2 400.1,105.6 400.8,106.0 401.5,106.4 402.1,106.8 402.8,107.2 403.4,107.6 404.1,108.0 404.8,108.4 405.4,108.8 406.1,109.2 406.7,109.7 407.4,110.1 408.0,110.5 408.7,110.9 409.3,111.4 409.9,111.8 410.6,112.2 411.2,112.7 411.8,113.1 412.5,113.5 413.1,114.0 413.7,114.4 414.3,114.9 415.0,115.4 415.6,115.8 416.2,116.3 416.8,116.8 417.4,117.2 417.9,117.7 418.5,118.2 419.1,118.7 419.7,119.2 420.2,119.7 420.8,120.2 421.4,120.8 421.9,121.3 422.5,121.8 423.0,122.3 423.5,122.9 424.1,123.4 424.6,124.0 425.1,124.5 425.6,125.1 426.1,125.6 426.6,126.2 427.1,126.8 427.6,127.3 428.1,127.9 428.6,128.5 429.1,129.1 429.5,129.7 430.0,130.3 430.5,130.9 430.9,131.5 431.4,132.1 431.8,132.7 432.3,133.3 432.7,133.9 433.1,134.5 433.6,135.2 434.0,135.8 434.4,136.4 434.8,137.1 435.3,137.7 435.7,138.3 436.1,139.0 436.5,139.6 436.9,140.3 437.3,140.9 437.7,141.6 438.0,142.3 438.4,142.9 438.8,143.6 439.2,144.3 439.5,144.9 439.9,145.6 440.3,146.3 440.6,147.0 441.0,147.6 441.3,148.3 441.7,149.0 442.0,149.7 442.4,150.4 442.7,151.1 443.0,151.8 443.4,152.5 443.7,153.2 444.0,153.9 444.3,154.6 444.7,155.3 445.0,156.0 445.3,156.7 445.6,157.4 445.9,158.1 446.2,158.8 446.5,159.5 446.8,160.2 447.1,160.9 447.4,161.6 447.7,162.4 447.9,163.1 448.2,163.8 448.5,164.5 448.8,165.2 449.0,165.9 449.3,166.7 449.6,167.4 449.9,168.1 450.1,168.8 450.4,169.5 450.6,170.1 450.9,170.8 451.1,171.5 451.4,172.1 451.6,172.8 451.9,173.5 452.1,174.2 452.4,174.8 452.6,175.5 452.9,176.2 453.1,176.9 453.3,177.5 453.6,178.2 453.8,178.9 454.0,179.5 454.2,180.2 454.5,180.9 454.7,181.6" stroke="#83b626" stroke-opacity="0.2"/>
<path d="M378.0,100.8 378.8,100.5 379.7,100.2 380.5,100.0 381.3,99.9 382.0,99.8 382.8,99.7 383.6,99.7 384.3,99.8 385.0,99.8 385.7,99.9 386.4,100.1 387.1,100.3 387.8,100.5 388.4,100.7 389.1,100.9 389.8,101.2 390.4,101.6 391.1,101.9 391.7,102.3 392.3,102.7 393.0,103.1 393.6,103.5 394.3,103.9 394.9,104.3 395.6,104.7 396.2,105.1 396.9,105.5 397.5,105.9 398.2,106.4 398.8,106.8 399.5,107.2 400.1,107.6 400.8,108.0 401.5,108.4 402.1,108.8 402.8,109.2 403.4,109.6 404.1,110.0 404.8,110.4 405.4,110.8 406.1,111.2 406.7,111.7 407.4,112.1 408.0,112.5 408.7,112.9 409.3,113.4 409.9,113.8 410.6,114.2 411.2,114.7 411.8,115.1 412.5,115.5 413.1,116.0 413.7,116.4 414.3,116.9 415.0,117.4 415.6,117.8 416.2,118.3 416.8,118.8 417.4,119.2 417.9,119.7 418.5,120.2 419.1,120.7 419.7,121.2 420.2,121.7 420.8,122.2 421.4,122.8 421.9,123.3 422.5,123.8 423.0,124.3 423.5,124.9 424.1,125.4 424.6,126.0 425.1,126.5 425.6,127.1 426.1,127.6 426.6,128.2 427.1,128.8 427.6,129.3 428.1,129.9 428.6,130.5 429.1,131.1 429.5,131.7 430.0,132.3 430.5,132.9 430.9,133.5 431.4,134.1 431.8,134.7 432.3,135.3 432.7,135.9 433.1,136.5 433.6,137.2 434.0,137.8 434.4,138.4 434.8,139.1 435.3,139.7 435.7,140.3 436.1,141.0 436.5,141.6 436.9,142.3 437.3,142.9 437.7,143.6 438.0,144.3 438.4,144.9 438.8,145.6 439.2,146.3 439.5,146.9 439.9,147.6 440.3,148.3 440.6,149.0 441.0,149.6 441.3,150.3 441.7,151.0 442.0,151.7 442.4,152.4 442.7,153.1 443.0,153.8 443.4,154.5 443.7,155.2 444.0,155.9 444.3,156.6 444.7,157.3 445.0,158.0 445.3,158.7 445.6,159.4 445.9,160.1 446.2,160.8 446.5,161.5 446.8,162.2 447.1,162.9 447.4,163.6 447.7,164.4 447.9,165.1 448.2,165.8 448.5,166.5 448.8,167.2 449.0,167.9 449.3,168.7 449.6,169.4 449.9,170.1 450.1,170.8 450.4,171.6 450.6,172.4 450.9,173.2 451.1,173.9 451.4,174.7 451.6,175.5 451.9,176.2 452.1,177.0 452.4,177.8 452.6,178.6 452.9,179.3 453.1,180.1 453.3,180.9 453.6,181.6 453.8,182.4 454.0,183.2 454.2,183.9 454.5,184.7 454.7,185.4" stroke="#83b626" stroke-opacity="0.2"/>
<path d="M382.3,200.8 382.5,200.3 382.8,199.8 383.1,199.2 383.4,198.6 383.7,198.1 384.0,197.5 384.4,196.9 384.8,196.3 385.1,195.7 385.6,195.2 386.0,194.7 386.4,194.1 386.9,193.7 387.4,193.2 387.9,192.8 388.4,192.4 389.0,192.1 389.6,191.8 390.2,191.6 390.8,191.2 391.4,191.0 392.1,190.8 392.8,190.6 393.5,190.6 394.2,190.5 394.9,190.6 395.6,190.7 396.3,190.8 397.1,191.0 397.8,191.3 398.5,191.6 399.2,191.9 399.9,192.3 400.6,192.7 401.3,193.2 402.0,193.7 402.6,194.2 403.3,194.7 403.9,195.3 404.6,195.9 405.2,196.5 405.8,197.0 406.5,197.6 407.1,198.2 407.8,198.8 408.4,199.4 409.1,200.0 409.8,200.5 410.4,201.1 411.1,201.6 411.8,202.0 412.5,202.5 413.3,202.9 414.0,203.3 414.8,203.6 415.5,203.9 416.3,204.2 417.1,204.5 417.8,204.8 418.6,205.1 419.4,205.3 420.2,205.6 420.9,205.7 421.7,205.9 422.5,206.1 423.2,206.3 424.0,206.5 424.7,206.8 425.4,207.0 426.1,207.3 426.8,207.6 427.5,207.9 428.2,208.2 428.9,208.6 429.5,209.0 430.2,209.3 430.8,209.7 431.5,210.1 432.1,210.6 432.7,211.0 433.4,211.4 434.0,211.9 434.6,212.4 435.1,212.9 435.7,213.4 436.3,213.9 436.9,214.4 437.4,214.9 438.0,215.5 438.5,216.0 439.0,216.6 439.6,217.2 440.1,217.7 440.6,218.2 441.1,218.8 441.6,219.3 442.1,219.8 442.6,220.4 443.0,220.9 443.5,221.5 443.9,222.1 444.4,222.6 444.8,223.2 445.2,223.8 445.7,224.4 446.1,225.0 446.5,225.6 446.9,226.2 447.3,226.8 447.7,227.4 448.1,228.1 448.4,228.7 448.8,229.3 449.2,230.0 449.5,230.6 449.9,231.3 450.2,231.9 450.6,232.6 450.9,233.2 451.3,233.9 451.6,234.5 451.9,235.2 452.2,235.9 452.6,236.5 452.9,237.2 453.2,237.9 453.5,238.6 453.8,239.2 454.1,239.9 454.4,240.6 454.7,241.3 455.0,242.0 455.3,242.7 455.5,243.4 455.8,244.1 456.1,244.7 456.4,245.4 456.7,246.1 456.9,246.8 457.2,247.5 457.5,248.2 457.8,248.9 458.0,249.6 458.3,250.3 458.6,251.0 458.9,251.7 459.1,252.4 459.4,253.1 459.7,253.7 459.9,254.4 460.2,255.1 460.5,255.8 460.7,256.5 461.0,257.2 461.3,257.8 461.6,258.5 461.8,259.2 462.1,259.9 462.4,260.6" stroke="#e9343a" stroke-opacity="0.28"/>
<path d="M382.3,223.6 382.5,222.8 382.8,222.1 383.1,221.3 383.4,220.4 383.7,219.6 384.0,218.7 384.4,217.8 384.8,216.9 385.1,216.0 385.6,215.1 386.0,214.2 386.4,213.3 386.9,212.4 387.4,211.5 387.9,210.6 388.4,209.8 389.0,209.0 389.6,208.2 390.2,207.5 390.8,207.0 391.4,206.5 392.1,206.1 392.8,205.7 393.5,205.4 394.2,205.2 394.9,204.9 395.6,204.8 396.3,204.7 397.1,204.7 397.8,204.7 398.5,204.7 399.2,204.8 399.9,205.0 400.6,205.2 401.3,205.4 402.0,205.7 402.6,206.0 403.3,206.3 403.9,206.7 404.6,207.0 405.2,207.4 405.8,207.8 406.5,208.2 407.1,208.5 407.8,208.9 408.4,209.3 409.1,209.6 409.8,209.9 410.4,210.2 411.1,210.5 411.8,210.8 412.5,211.0 413.3,211.1 414.0,211.3 414.8,211.3 415.5,211.4 416.3,211.5 417.1,211.5 417.8,211.5 418.6,211.5 419.4,211.5 420.2,211.6 420.9,211.7 421.7,211.9 422.5,212.1 423.2,212.3 424.0,212.5 424.7,212.8 425.4,213.0 426.1,213.3 426.8,213.6 427.5,213.9 428.2,214.2 428.9,214.6 429.5,215.0 430.2,215.3 430.8,215.7 431.5,216.1 432.1,216.6 432.7,217.0 433.4,217.4 434.0,217.9 434.6,218.4 435.1,218.9 435.7,219.4 436.3,219.9 436.9,220.4 437.4,220.9 438.0,221.5 438.5,222.0 439.0,222.6 439.6,223.2 440.1,223.7 440.6,224.4 441.1,225.1 441.6,225.7 442.1,226.4 442.6,227.1 443.0,227.8 443.5,228.5 443.9,229.1 444.4,229.8 444.8,230.5 445.2,231.2 445.7,232.0 446.1,232.7 446.5,233.4 446.9,234.1 447.3,234.8 447.7,235.5 448.1,236.3 448.4,237.0 448.8,237.7 449.2,238.5 449.5,239.2 449.9,240.0 450.2,240.7 450.6,241.4 450.9,242.2 451.3,242.9 451.6,243.7 451.9,244.4 452.2,245.2 452.6,246.0 452.9,246.7 453.2,247.5 453.5,248.2 453.8,249.0 454.1,249.8 454.4,250.5 454.7,251.3 455.0,252.1 455.3,252.8 455.5,253.6 455.8,254.4 456.1,255.1 456.4,255.9 456.7,256.7 456.9,257.4 457.2,258.2 457.5,259.0 457.8,259.7 458.0,260.5 458.3,261.3 458.6,262.1 458.9,262.8 459.1,263.6 459.4,264.3 459.7,265.1 459.9,265.9 460.2,266.6 460.5,267.4 460.7,268.1 461.0,268.9 461.3,269.7 461.6,270.4 461.8,271.2 462.1,271.9 462.4,272.6" stroke="#e9343a" stroke-opacity="0.28"/>
<path d="M385.6,141.8 385.8,141.1 386.0,140.3 386.2,139.6 386.5,139.0 386.9,138.4 387.3,137.8 387.7,137.3 388.2,136.9 388.7,136.5 389.2,136.2 389.7,135.9 390.3,135.6 390.9,135.3 391.5,135.1 392.2,135.0 392.8,134.9 393.5,134.8 394.2,134.8 394.9,134.9 395.5,135.0 396.2,135.2 396.9,135.4 397.6,135.6 398.3,135.8 399.0,136.1 399.7,136.5 400.4,136.9 401.1,137.3 401.7,137.8 402.4,138.2 403.1,138.7 403.7,139.2 404.4,139.8 405.0,140.3 405.6,140.9 406.3,141.4 406.9,142.0 407.5,142.5 408.1,143.1 408.8,143.6 409.4,144.2 410.0,144.7 410.7,145.1 411.3,145.6 412.0,146.0 412.6,146.4 413.3,146.8 414.0,147.1 414.7,147.5 415.4,147.7 416.1,148.0 416.8,148.3 417.6,148.5 418.3,148.7 419.0,149.0 419.8,149.2 420.5,149.4 421.3,149.6 422.0,149.8 422.8,150.0 423.6,150.2 424.3,150.4 425.1,150.6 425.8,150.8 426.5,151.0 427.3,151.1 428.0,151.4 428.7,151.6 429.4,151.9 430.1,152.1 430.7,152.5 431.4,152.8 432.0,153.2 432.6,153.6 433.2,154.1 433.8,154.5 434.4,155.0 434.9,155.6 435.4,156.1 436.0,156.7 436.5,157.3 436.9,157.9 437.4,158.5 437.8,159.1 438.3,159.7 438.7,160.4 439.1,161.0 439.5,161.7 439.8,162.4 440.2,163.1 440.5,163.7 440.8,164.4 441.2,165.1 441.5,165.8 441.8,166.5 442.0,167.2 442.3,167.9 442.6,168.7 442.8,169.4 443.1,170.1 443.3,170.8 443.6,171.5 443.8,172.3 444.0,173.0 444.3,173.7 444.5,174.5 444.7,175.2 444.9,175.9 445.2,176.6 445.4,177.3 445.6,178.0 445.8,178.7 446.1,179.4 446.3,180.1 446.5,180.7 446.8,181.4 447.0,182.1 447.3,182.8 447.5,183.4 447.8,184.1 448.0,184.8 448.3,185.4 448.5,186.1 448.8,186.7 449.0,187.4 449.3,188.1 449.6,188.7 449.8,189.4 450.1,190.0 450.3,190.7 450.6,191.4 450.9,192.0 451.1,192.7 451.4,193.3 451.6,194.0 451.9,194.7 452.1,195.3 452.4,196.0 452.6,196.7 452.8,197.4 453.1,198.0 453.3,198.7 453.5,199.4 453.7,200.1 453.9,200.8 454.1,201.4 454.3,202.1 454.5,202.8 454.7,203.5 454.9,204.3 455.1,205.0 455.2,205.7 455.4,206.4 455.5,207.1 455.7,207.9 455.8,208.6 455.9,209.4 456.0,210.1 456.1,210.9" stroke="#f89b40" stroke-opacity="0.28"/>
<path d="M385.6,159.4 385.8,158.4 386.0,157.5 386.2,156.6 386.5,155.7 386.9,154.9 387.3,154.0 387.7,153.2 388.2,152.4 388.7,151.6 389.2,150.8 389.7,150.1 390.3,149.4 390.9,148.9 391.5,148.3 392.2,147.9 392.8,147.4 393.5,147.1 394.2,146.7 394.9,146.5 395.5,146.2 396.2,146.1 396.9,146.1 397.6,146.1 398.3,146.2 399.0,146.3 399.7,146.4 400.4,146.6 401.1,146.9 401.7,147.1 402.4,147.4 403.1,147.7 403.7,148.0 404.4,148.4 405.0,148.7 405.6,149.1 406.3,149.5 406.9,149.9 407.5,150.2 408.1,150.6 408.8,151.0 409.4,151.3 410.0,151.7 410.7,152.0 411.3,152.3 412.0,152.6 412.6,152.9 413.3,153.1 414.0,153.3 414.7,153.5 415.4,153.7 416.1,153.8 416.8,153.9 417.6,154.0 418.3,154.1 419.0,154.1 419.8,154.2 420.5,154.3 421.3,154.3 422.0,154.4 422.8,154.4 423.6,154.5 424.3,154.5 425.1,154.6 425.8,154.8 426.5,155.0 427.3,155.1 428.0,155.4 428.7,155.6 429.4,155.9 430.1,156.1 430.7,156.5 431.4,156.8 432.0,157.2 432.6,157.6 433.2,158.1 433.8,158.5 434.4,159.0 434.9,159.6 435.4,160.1 436.0,160.7 436.5,161.3 436.9,161.9 437.4,162.5 437.8,163.1 438.3,163.7 438.7,164.4 439.1,165.0 439.5,165.7 439.8,166.4 440.2,167.1 440.5,167.7 440.8,168.4 441.2,169.1 441.5,169.8 441.8,170.5 442.0,171.2 442.3,171.9 442.6,172.7 442.8,173.4 443.1,174.1 443.3,174.8 443.6,175.5 443.8,176.3 444.0,177.0 444.3,177.7 444.5,178.5 444.7,179.2 444.9,179.9 445.2,180.7 445.4,181.5 445.6,182.2 445.8,183.0 446.1,183.8 446.3,184.5 446.5,185.3 446.8,186.1 447.0,186.8 447.3,187.6 447.5,188.3 447.8,189.1 448.0,189.9 448.3,190.6 448.5,191.4 448.8,192.1 449.0,192.9 449.3,193.6 449.6,194.4 449.8,195.1 450.1,195.9 450.3,196.6 450.6,197.4 450.9,198.2 451.1,198.9 451.4,199.7 451.6,200.4 451.9,201.2 452.1,201.9 452.4,202.7 452.6,203.4 452.8,204.2 453.1,205.0 453.3,205.7 453.5,206.5 453.7,207.2 453.9,208.0 454.1,208.8 454.3,209.5 454.5,210.3 454.7,211.1 454.9,211.9 455.1,212.6 455.2,213.4 455.4,214.2 455.5,215.0 455.7,215.8 455.8,216.5 455.9,217.3 456.0,218.1 456.1,218.9" stroke="#f89b40" stroke-opacity="0.28"/>
<path d="M492.5,76.9 492.9,75.8 493.3,74.6 493.6,73.4 493.9,72.2 494.2,71.0 494.6,69.8 495.0,68.6 495.4,67.5 496.0,66.4 496.7,65.4 497.5,64.4 498.5,63.5 499.6,62.7 500.8,62.1 502.0,61.8 503.1,61.9 504.3,62.2 505.5,62.8 506.7,63.6 507.9,64.6 509.0,65.7 510.1,66.8 511.1,68.1 512.1,69.4 513.1,70.6 514.0,71.9 514.9,73.2 515.7,74.5 516.5,75.7 517.3,76.9 518.1,78.2 518.8,79.5 519.5,80.7 520.2,82.0 520.9,83.3 521.6,84.6 522.4,85.8 523.1,87.1 523.8,88.4 524.5,89.7 525.2,90.9 526.0,92.1 526.7,93.2 527.5,94.3 528.3,95.5 529.2,96.6 530.0,97.7 530.8,98.8 531.7,99.9 532.5,101.0 533.3,102.1 534.2,103.3 535.0,104.4 535.8,105.5 536.6,106.6 537.4,107.8 538.2,108.9 538.9,110.1 539.7,111.2 540.4,112.4 541.1,113.6 541.7,114.8 542.4,116.0 543.0,117.2 543.6,118.4 544.2,119.7 544.8,120.9 545.4,122.2 545.9,123.4 546.4,124.7 546.9,126.0 547.4,127.3 547.9,128.6 548.4,129.8 548.8,131.2 549.3,132.5 549.7,133.8 550.1,135.1 550.5,136.4 550.9,137.7 551.3,139.1 551.7,140.4 552.1,141.7 552.4,143.1 552.8,144.4 553.1,145.8 553.5,147.1 553.8,148.5 554.1,149.8 554.4,151.2 554.7,152.6 555.1,153.9 555.4,155.2 555.7,156.5 556.0,157.8 556.3,159.1 556.6,160.4 556.9,161.7 557.1,163.1 557.4,164.4 557.7,165.7 558.0,167.0 558.3,168.3 558.6,169.6 558.9,170.9 559.1,172.2 559.4,173.5 559.7,174.8 559.9,176.1 560.2,177.5 560.5,178.8 560.7,180.1 561.0,181.4 561.3,182.7 561.5,184.0 561.8,185.3 562.1,186.6 562.3,187.9 562.6,189.3 562.8,190.6 563.1,191.9 563.3,193.2 563.6,194.5 563.8,195.8 564.1,197.2 564.3,198.5 564.6,199.8 564.8,201.1 565.1,202.4 565.3,203.7 565.6,205.1 565.8,206.4 566.0,207.7 566.3,209.0 566.5,210.3 566.8,211.7 567.0,213.0 567.3,214.3 567.5,215.6 567.7,216.9 568.0,218.3 568.2,219.6 568.5,220.9 568.7,222.2 568.9,223.6 569.2,224.9 569.4,226.2 569.6,227.5 569.9,228.9 570.1,230.2 570.4,231.5 570.6,232.8 570.8,234.2 571.1,235.5 571.3,236.8 571.6,238.2 571.8,239.5 572.1,240.8 572.3,242.2" stroke="#e9343a" stroke-opacity="0.28"/>
<path d="M492.5,95.5 492.9,94.0 493.3,92.5 493.6,91.1 493.9,89.6 494.2,88.1 494.6,86.6 495.0,85.1 495.4,83.6 496.0,82.0 496.7,80.5 497.5,78.8 498.5,77.3 499.6,75.9 500.8,74.7 502.0,73.9 503.1,73.3 504.3,73.1 505.5,73.1 506.7,73.4 507.9,73.8 509.0,74.4 510.1,75.1 511.1,75.9 512.1,76.7 513.1,77.5 514.0,78.4 514.9,79.3 515.7,80.3 516.5,81.3 517.3,82.4 518.1,83.5 518.8,84.5 519.5,85.6 520.2,86.7 520.9,87.8 521.6,89.0 522.4,90.1 523.1,91.2 523.8,92.3 524.5,93.4 525.2,94.5 526.0,95.7 526.7,96.9 527.5,98.0 528.3,99.2 529.2,100.4 530.0,101.5 530.8,102.7 531.7,103.8 532.5,105.0 533.3,106.1 534.2,107.3 535.0,108.4 535.8,109.6 536.6,110.8 537.4,111.9 538.2,113.1 538.9,114.3 539.7,115.5 540.4,116.7 541.1,117.9 541.7,119.2 542.4,120.4 543.0,121.7 543.6,122.9 544.2,124.2 544.8,125.5 545.4,126.7 545.9,128.0 546.4,129.3 546.9,130.6 547.4,131.9 547.9,133.2 548.4,134.5 548.8,135.9 549.3,137.2 549.7,138.5 550.1,139.9 550.5,141.2 550.9,142.6 551.3,143.9 551.7,145.3 552.1,146.6 552.4,148.0 552.8,149.3 553.1,150.7 553.5,152.1 553.8,153.4 554.1,154.8 554.4,156.2 554.7,157.6 555.1,158.9 555.4,160.4 555.7,161.8 556.0,163.2 556.3,164.7 556.6,166.1 556.9,167.5 557.1,168.9 557.4,170.4 557.7,171.8 558.0,173.2 558.3,174.6 558.6,176.1 558.9,177.5 559.1,178.9 559.4,180.3 559.7,181.8 559.9,183.2 560.2,184.6 560.5,186.0 560.7,187.4 561.0,188.9 561.3,190.3 561.5,191.7 561.8,193.1 562.1,194.5 562.3,196.0 562.6,197.4 562.8,198.8 563.1,200.2 563.3,201.6 563.6,203.1 563.8,204.5 564.1,205.9 564.3,207.3 564.6,208.7 564.8,210.2 565.1,211.6 565.3,213.0 565.6,214.4 565.8,215.8 566.0,217.2 566.3,218.7 566.5,220.1 566.8,221.5 567.0,222.9 567.3,224.3 567.5,225.8 567.7,227.2 568.0,228.6 568.2,230.0 568.5,231.5 568.7,232.9 568.9,234.3 569.2,235.7 569.4,237.1 569.6,238.6 569.9,240.0 570.1,241.4 570.4,242.8 570.6,244.3 570.8,245.7 571.1,247.1 571.3,248.5 571.6,250.0 571.8,251.4 572.1,252.8 572.3,254.2" stroke="#e9343a" stroke-opacity="0.28"/>
<path d="M495.5,120.7 496.2,120.0 497.0,119.5 497.8,119.1 498.5,118.9 499.3,118.7 500.1,118.7 501.0,118.8 501.8,119.0 502.6,119.2 503.4,119.4 504.2,119.8 505.0,120.2 505.8,120.7 506.6,121.2 507.4,121.8 508.2,122.5 508.9,123.2 509.7,123.9 510.4,124.7 511.1,125.5 511.9,126.3 512.5,127.1 513.2,127.9 513.9,128.7 514.5,129.6 515.2,130.4 515.8,131.3 516.4,132.1 517.0,133.0 517.6,133.9 518.2,134.8 518.7,135.6 519.3,136.5 519.9,137.4 520.5,138.3 521.0,139.2 521.6,140.0 522.2,140.9 522.7,141.7 523.3,142.5 523.9,143.3 524.5,144.1 525.0,144.9 525.6,145.7 526.2,146.5 526.8,147.2 527.4,148.0 527.9,148.8 528.5,149.6 529.1,150.3 529.7,151.1 530.3,151.9 530.8,152.6 531.4,153.3 532.0,154.0 532.5,154.7 533.1,155.4 533.6,156.2 534.2,156.9 534.7,157.6 535.3,158.4 535.8,159.1 536.4,159.9 536.9,160.6 537.4,161.4 537.9,162.2 538.4,163.0 538.9,163.7 539.4,164.5 539.9,165.3 540.4,166.1 540.9,166.9 541.3,167.7 541.8,168.5 542.3,169.4 542.7,170.2 543.2,171.0 543.6,171.8 544.0,172.7 544.4,173.5 544.9,174.3 545.3,175.2 545.7,176.0 546.1,176.9 546.4,177.7 546.8,178.6 547.2,179.5 547.5,180.3 547.9,181.2 548.2,182.1 548.6,182.9 548.9,183.8 549.2,184.7 549.5,185.6 549.8,186.4 550.1,187.3 550.4,188.2 550.7,189.0 551.0,189.9 551.3,190.7 551.5,191.6 551.8,192.4 552.1,193.3 552.3,194.2 552.6,195.0 552.8,195.9 553.1,196.8 553.3,197.6 553.6,198.5 553.8,199.4 554.0,200.3 554.3,201.1 554.5,202.0 554.8,202.9 555.0,203.7 555.3,204.6 555.5,205.5 555.8,206.3 556.1,207.2 556.3,208.1 556.6,208.9 556.9,209.8 557.2,210.6 557.5,211.5 557.7,212.3 558.0,213.2 558.3,214.1 558.6,214.9 558.9,215.8 559.2,216.6 559.5,217.5 559.8,218.3 560.1,219.2 560.4,220.0 560.7,220.9 561.0,221.7 561.3,222.6 561.5,223.4 561.8,224.3 562.1,225.2 562.4,226.0 562.6,226.9 562.9,227.8 563.2,228.6 563.4,229.5 563.6,230.4 563.9,231.2 564.1,232.1 564.3,233.0 564.5,233.9 564.8,234.8 564.9,235.7 565.1,236.5 565.3,237.4 565.5,238.3 565.6,239.3 565.8,240.2 565.9,241.1 566.0,242.0" stroke="#f89b40" stroke-opacity="0.28"/>
<path d="M495.5,138.3 496.2,137.1 497.0,136.1 497.8,135.2 498.5,134.3 499.3,133.6 500.1,133.0 501.0,132.5 501.8,132.1 502.6,131.9 503.4,131.7 504.2,131.7 505.0,131.7 505.8,131.8 506.6,131.9 507.4,132.1 508.2,132.4 508.9,132.7 509.7,133.1 510.4,133.5 511.1,133.9 511.9,134.4 512.5,134.9 513.2,135.4 513.9,136.0 514.5,136.6 515.2,137.2 515.8,137.8 516.4,138.4 517.0,139.0 517.6,139.7 518.2,140.3 518.7,140.9 519.3,141.6 519.9,142.3 520.5,142.9 521.0,143.6 521.6,144.2 522.2,144.9 522.7,145.6 523.3,146.3 523.9,146.9 524.5,147.6 525.0,148.3 525.6,149.0 526.2,149.6 526.8,150.3 527.4,150.9 527.9,151.6 528.5,152.3 529.1,152.9 529.7,153.6 530.3,154.3 530.8,155.0 531.4,155.7 532.0,156.4 532.5,157.1 533.1,157.8 533.6,158.6 534.2,159.3 534.7,160.0 535.3,160.8 535.8,161.5 536.4,162.3 536.9,163.0 537.4,163.8 537.9,164.6 538.4,165.4 538.9,166.1 539.4,166.9 539.9,167.7 540.4,168.5 540.9,169.3 541.3,170.1 541.8,170.9 542.3,171.8 542.7,172.6 543.2,173.4 543.6,174.2 544.0,175.1 544.4,175.9 544.9,176.7 545.3,177.6 545.7,178.4 546.1,179.3 546.4,180.1 546.8,181.0 547.2,181.9 547.5,182.7 547.9,183.6 548.2,184.5 548.6,185.3 548.9,186.2 549.2,187.1 549.5,188.0 549.8,188.8 550.1,189.7 550.4,190.7 550.7,191.6 551.0,192.5 551.3,193.4 551.5,194.3 551.8,195.3 552.1,196.2 552.3,197.1 552.6,198.0 552.8,198.9 553.1,199.9 553.3,200.8 553.6,201.7 553.8,202.6 554.0,203.6 554.3,204.5 554.5,205.4 554.8,206.3 555.0,207.3 555.3,208.2 555.5,209.1 555.8,210.0 556.1,211.0 556.3,211.9 556.6,212.8 556.9,213.7 557.2,214.6 557.5,215.6 557.7,216.5 558.0,217.4 558.3,218.3 558.6,219.2 558.9,220.2 559.2,221.1 559.5,222.0 559.8,222.9 560.1,223.8 560.4,224.8 560.7,225.7 561.0,226.6 561.3,227.5 561.5,228.4 561.8,229.4 562.1,230.3 562.4,231.2 562.6,232.1 562.9,233.1 563.2,234.0 563.4,234.9 563.6,235.8 563.9,236.8 564.1,237.7 564.3,238.6 564.5,239.6 564.8,240.5 564.9,241.4 565.1,242.4 565.3,243.3 565.5,244.2 565.6,245.2 565.8,246.1 565.9,247.1 566.0,248.0" stroke="#f89b40" stroke-opacity="0.28"/>
<path d="M602.5,141.3 602.9,140.0 603.3,138.8 603.6,137.5 603.9,136.1 604.2,134.8 604.5,133.5 604.8,132.2 605.0,131.0 605.3,129.7 605.6,128.4 605.9,127.2 606.3,126.0 606.7,124.8 607.2,123.7 607.8,122.6 608.4,121.3 609.2,120.0 610.0,118.7 610.9,117.4 611.9,116.3 613.0,115.4 614.2,115.0 615.3,115.1 616.6,116.0 617.8,117.2 619.0,118.6 620.1,120.0 621.1,121.4 622.2,122.9 623.1,124.3 624.0,125.7 624.9,127.1 625.8,128.6 626.6,130.0 627.4,131.5 628.1,133.0 628.9,134.5 629.6,136.0 630.3,137.5 631.0,139.0 631.7,140.5 632.3,142.0 633.0,143.4 633.7,144.8 634.4,146.2 635.1,147.6 635.8,149.0 636.5,150.4 637.2,151.7 637.9,153.1 638.6,154.5 639.2,155.9 639.9,157.3 640.6,158.7 641.3,160.1 642.0,161.5 642.6,162.9 643.3,164.3 644.0,165.7 644.6,167.1 645.3,168.5 645.9,169.9 646.5,171.3 647.1,172.7 647.8,174.2 648.3,175.6 648.9,177.0 649.5,178.4 650.1,179.9 650.6,181.3 651.1,182.7 651.7,184.2 652.2,185.6 652.7,187.1 653.2,188.5 653.6,190.0 654.1,191.5 654.6,192.9 655.0,194.4 655.5,195.9 655.9,197.3 656.3,198.8 656.7,200.3 657.1,201.8 657.5,203.2 657.9,204.7 658.3,206.2 658.7,207.7 659.0,209.2 659.4,210.7 659.8,212.2 660.1,213.7 660.4,215.1 660.8,216.6 661.1,218.1 661.4,219.6 661.8,221.0 662.1,222.5 662.4,224.0 662.7,225.5 663.0,227.0 663.3,228.5 663.6,229.9 663.9,231.4 664.2,232.9 664.5,234.4 664.8,235.9 665.0,237.4 665.3,238.9 665.6,240.4 665.9,241.9 666.2,243.4 666.4,244.9 666.7,246.4 667.0,247.9 667.3,249.4 667.5,250.9 667.8,252.4 668.1,253.9 668.4,255.4 668.6,256.9 668.9,258.4 669.2,259.8 669.5,261.3 669.8,262.8 670.1,264.3 670.3,265.8 670.6,267.3 670.9,268.8 671.2,270.3 671.5,271.8 671.8,273.3 672.1,274.8 672.5,276.2 672.8,277.7 673.1,279.2 673.4,280.7 673.8,282.1 674.1,283.6 674.5,285.1 674.8,286.6 675.2,288.0 675.5,289.5 675.9,290.9 676.3,292.4 676.7,293.9 677.1,295.3 677.5,296.8 677.9,298.2 678.3,299.6 678.7,301.1 679.2,302.5 679.6,303.9 680.1,305.4 680.5,306.8 681.0,308.2 681.5,309.6 682.0,311.0 682.5,312.5" stroke="#e9343a" stroke-opacity="0.28"/>
<path d="M602.5,164.7 602.9,162.8 603.3,161.0 603.6,159.3 603.9,157.5 604.2,155.9 604.5,154.2 604.8,152.6 605.0,150.9 605.3,149.3 605.6,147.6 605.9,146.0 606.3,144.3 606.7,142.5 607.2,140.7 607.8,138.9 608.4,137.2 609.2,135.5 610.0,133.8 610.9,132.1 611.9,130.6 613.0,129.3 614.2,128.4 615.3,127.9 616.6,128.1 617.8,128.6 619.0,129.3 620.1,130.1 621.1,130.9 622.2,131.8 623.1,132.8 624.0,133.9 624.9,134.9 625.8,136.1 626.6,137.2 627.4,138.3 628.1,139.5 628.9,140.7 629.6,141.9 630.3,143.2 631.0,144.4 631.7,145.7 632.3,147.0 633.0,148.4 633.7,149.7 634.4,151.1 635.1,152.5 635.8,153.9 636.5,155.3 637.2,156.6 637.9,158.0 638.6,159.4 639.2,160.8 639.9,162.1 640.6,163.5 641.3,164.9 642.0,166.3 642.6,167.7 643.3,169.1 644.0,170.4 644.6,171.8 645.3,173.2 645.9,174.6 646.5,176.0 647.1,177.4 647.8,178.8 648.3,180.2 648.9,181.6 649.5,183.1 650.1,184.5 650.6,185.9 651.1,187.3 651.7,188.8 652.2,190.2 652.7,191.6 653.2,193.1 653.6,194.5 654.1,196.0 654.6,197.4 655.0,198.9 655.5,200.4 655.9,201.8 656.3,203.3 656.7,204.7 657.1,206.2 657.5,207.7 657.9,209.2 658.3,210.7 658.7,212.1 659.0,213.6 659.4,215.1 659.8,216.6 660.1,218.1 660.4,219.6 660.8,221.1 661.1,222.7 661.4,224.2 661.8,225.7 662.1,227.3 662.4,228.8 662.7,230.3 663.0,231.9 663.3,233.4 663.6,234.9 663.9,236.5 664.2,238.0 664.5,239.5 664.8,241.1 665.0,242.6 665.3,244.2 665.6,245.7 665.9,247.2 666.2,248.8 666.4,250.3 666.7,251.9 667.0,253.4 667.3,255.0 667.5,256.5 667.8,258.0 668.1,259.6 668.4,261.1 668.6,262.7 668.9,264.2 669.2,265.8 669.5,267.3 669.8,268.8 670.1,270.4 670.3,271.9 670.6,273.5 670.9,275.0 671.2,276.5 671.5,278.1 671.8,279.6 672.1,281.1 672.5,282.7 672.8,284.2 673.1,285.7 673.4,287.3 673.8,288.8 674.1,290.3 674.5,291.9 674.8,293.4 675.2,294.9 675.5,296.4 675.9,297.9 676.3,299.5 676.7,301.0 677.1,302.5 677.5,304.0 677.9,305.5 678.3,307.0 678.7,308.5 679.2,310.1 679.6,311.6 680.1,313.1 680.5,314.6 681.0,316.1 681.5,317.6 682.0,319.0 682.5,320.5" stroke="#e9343a" stroke-opacity="0.28"/>
<path d="M605.3,214.0 606.2,214.1 607.0,214.2 607.8,214.5 608.5,214.9 609.2,215.3 609.9,215.9 610.5,216.5 611.1,217.2 611.6,217.9 612.1,218.7 612.6,219.5 613.1,220.4 613.6,221.3 614.0,222.1 614.4,223.0 614.9,223.9 615.3,224.8 615.6,225.7 616.0,226.6 616.4,227.4 616.7,228.3 617.1,229.2 617.4,230.0 617.8,230.9 618.1,231.8 618.4,232.7 618.7,233.5 619.0,234.4 619.3,235.3 619.6,236.2 619.9,237.1 620.2,238.0 620.5,238.8 620.8,239.7 621.1,240.6 621.4,241.5 621.7,242.4 621.9,243.2 622.2,244.1 622.5,244.9 622.8,245.7 623.1,246.5 623.4,247.4 623.7,248.2 624.0,249.0 624.3,249.8 624.6,250.7 624.9,251.5 625.1,252.3 625.4,253.1 625.7,253.9 626.0,254.7 626.3,255.5 626.6,256.4 626.9,257.2 627.2,258.0 627.5,258.8 627.8,259.6 628.1,260.4 628.4,261.2 628.7,262.0 629.0,262.8 629.3,263.7 629.6,264.5 629.9,265.3 630.2,266.1 630.5,266.8 630.8,267.6 631.1,268.3 631.4,269.1 631.7,269.9 632.0,270.6 632.3,271.4 632.6,272.1 632.9,272.9 633.3,273.7 633.6,274.4 633.9,275.2 634.2,275.9 634.5,276.7 634.8,277.5 635.2,278.2 635.5,279.0 635.8,279.7 636.1,280.5 636.5,281.3 636.8,282.0 637.1,282.8 637.5,283.5 637.8,284.3 638.1,285.1 638.5,285.8 638.8,286.6 639.2,287.3 639.5,288.1 639.9,288.8 640.3,289.6 640.6,290.3 641.0,291.1 641.4,291.8 641.8,292.5 642.2,293.3 642.6,294.0 643.0,294.7 643.4,295.4 643.8,296.2 644.2,296.9 644.6,297.6 645.0,298.3 645.5,299.0 645.9,299.7 646.4,300.4 646.8,301.0 647.3,301.7 647.8,302.4 648.2,303.1 648.7,303.7 649.2,304.4 649.7,305.0 650.3,305.6 650.8,306.3 651.3,306.9 651.9,307.5 652.4,308.1 653.0,308.7 653.6,309.3 654.1,309.9 654.7,310.5 655.3,311.0 656.0,311.6 656.6,312.1 657.2,312.6 657.9,313.2 658.5,313.7 659.2,314.2 659.9,314.7 660.5,315.2 661.2,315.6 661.9,316.0 662.6,316.4 663.3,316.8 664.0,317.2 664.7,317.6 665.4,318.0 666.1,318.4 666.8,318.8 667.5,319.1 668.3,319.5 669.0,319.9 669.7,320.2 670.4,320.6 671.1,320.9 671.8,321.3 672.5,321.6 673.2,322.0 673.9,322.3 674.6,322.6 675.3,323.0 676.0,323.3" stroke="#f89b40" stroke-opacity="0.28"/>
<path d="M605.3,230.8 606.2,230.1 607.0,229.6 607.8,229.3 608.5,229.1 609.2,229.0 609.9,229.0 610.5,229.1 611.1,229.3 611.6,229.6 612.1,229.9 612.6,230.3 613.1,230.8 613.6,231.3 614.0,231.8 614.4,232.3 614.9,232.8 615.3,233.4 615.6,234.0 616.0,234.6 616.4,235.2 616.7,235.8 617.1,236.5 617.4,237.2 617.8,237.8 618.1,238.5 618.4,239.2 618.7,239.9 619.0,240.6 619.3,241.3 619.6,242.0 619.9,242.7 620.2,243.4 620.5,244.1 620.8,244.9 621.1,245.6 621.4,246.3 621.7,247.0 621.9,247.7 622.2,248.4 622.5,249.1 622.8,249.9 623.1,250.6 623.4,251.3 623.7,252.1 624.0,252.8 624.3,253.5 624.6,254.3 624.9,255.0 625.1,255.7 625.4,256.5 625.7,257.2 626.0,257.9 626.3,258.7 626.6,259.4 626.9,260.1 627.2,260.8 627.5,261.6 627.8,262.3 628.1,263.0 628.4,263.7 628.7,264.4 629.0,265.2 629.3,265.9 629.6,266.6 629.9,267.3 630.2,268.1 630.5,268.8 630.8,269.6 631.1,270.3 631.4,271.1 631.7,271.9 632.0,272.6 632.3,273.4 632.6,274.1 632.9,274.9 633.3,275.7 633.6,276.4 633.9,277.2 634.2,277.9 634.5,278.7 634.8,279.5 635.2,280.2 635.5,281.0 635.8,281.7 636.1,282.5 636.5,283.3 636.8,284.0 637.1,284.8 637.5,285.5 637.8,286.3 638.1,287.1 638.5,287.8 638.8,288.6 639.2,289.3 639.5,290.1 639.9,290.8 640.3,291.6 640.6,292.3 641.0,293.1 641.4,293.8 641.8,294.5 642.2,295.3 642.6,296.0 643.0,296.7 643.4,297.4 643.8,298.2 644.2,298.9 644.6,299.6 645.0,300.3 645.5,301.0 645.9,301.7 646.4,302.4 646.8,303.0 647.3,303.7 647.8,304.4 648.2,305.1 648.7,305.7 649.2,306.4 649.7,307.0 650.3,307.6 650.8,308.3 651.3,308.9 651.9,309.5 652.4,310.1 653.0,310.7 653.6,311.3 654.1,311.9 654.7,312.5 655.3,313.0 656.0,313.6 656.6,314.1 657.2,314.6 657.9,315.2 658.5,315.7 659.2,316.2 659.9,316.7 660.5,317.3 661.2,317.8 661.9,318.4 662.6,318.9 663.3,319.4 664.0,320.0 664.7,320.5 665.4,321.0 666.1,321.5 666.8,322.0 667.5,322.5 668.3,323.0 669.0,323.5 669.7,324.0 670.4,324.5 671.1,325.0 671.8,325.5 672.5,326.0 673.2,326.4 673.9,326.9 674.6,327.4 675.3,327.8 676.0,328.3" stroke="#f89b40" stroke-opacity="0.28"/>
</g>
<g fill="none" stroke-width="1.15" stroke-linecap="butt" stroke-linejoin="round">
<path d="M42.0,32.8 43.2,31.8 44.5,31.0 45.8,30.4 47.0,29.9 48.3,29.6 49.6,29.4 50.9,29.4 52.3,29.5 53.5,29.7 54.8,30.0 56.1,30.4 57.4,30.9 58.6,31.5 59.8,32.1 61.0,32.8 62.2,33.6 63.3,34.5 64.4,35.4 65.5,36.3 66.5,37.2 67.6,38.2 68.5,39.2 69.5,40.3 70.4,41.4 71.3,42.5 72.2,43.6 73.0,44.7 73.8,45.9 74.6,47.1 75.4,48.3 76.2,49.5 77.0,50.7 77.7,51.9 78.5,53.1 79.2,54.3 79.9,55.5 80.6,56.7 81.3,57.9 82.0,59.1 82.7,60.4 83.4,61.6 84.1,62.8 84.7,64.0 85.4,65.2 86.0,66.5 86.7,67.7 87.3,68.9 87.9,70.2 88.5,71.4 89.1,72.7 89.7,73.9 90.3,75.2 90.9,76.4 91.5,77.7 92.0,79.0 92.6,80.3 93.1,81.5 93.6,82.8 94.1,84.1 94.6,85.4 95.1,86.7 95.6,88.0 96.1,89.3 96.6,90.7 97.1,92.0 97.5,93.3 98.0,94.6 98.4,95.9 98.9,97.3 99.3,98.6 99.8,99.9 100.2,101.3 100.6,102.6 101.1,104.0 101.5,105.3 101.9,106.7 102.3,108.0 102.7,109.3 103.1,110.7 103.5,112.0 103.9,113.4 104.3,114.7 104.7,116.1 105.1,117.4 105.5,118.8 105.9,120.1 106.3,121.4 106.7,122.8 107.0,124.1 107.4,125.5 107.8,126.8 108.2,128.2 108.5,129.5 108.9,130.9 109.3,132.2 109.6,133.6 110.0,134.9 110.3,136.3 110.7,137.6 111.0,139.0 111.4,140.3 111.7,141.7 112.1,143.0 112.4,144.4 112.8,145.7 113.1,147.1 113.4,148.5 113.7,149.8 114.1,151.2 114.4,152.5 114.7,153.9 115.0,155.2 115.3,156.6 115.6,158.0 115.9,159.3 116.2,160.7 116.5,162.1 116.8,163.4 117.1,164.8 117.4,166.2 117.7,167.5 118.0,168.9 118.3,170.3 118.6,171.6 118.8,173.0 119.1,174.4 119.4,175.7 119.7,177.1 120.0,178.5 120.3,179.8 120.6,181.2 120.9,182.5 121.2,183.9 121.5,185.3 121.8,186.6 122.1,188.0 122.4,189.3 122.8,190.7 123.1,192.1 123.4,193.4 123.7,194.8 124.0,196.1 124.4,197.5 124.7,198.9 125.0,200.2 125.3,201.6 125.6,202.9 125.9,204.3 126.3,205.7 126.6,207.0 126.9,208.4 127.2,209.7 127.5,211.1 127.8,212.5 128.1,213.8 128.4,215.2 128.6,216.6 128.9,217.9 129.2,219.3" stroke="#4ea6cc"/>
<path d="M48.3,32.6 49.4,32.5 50.4,32.6 51.5,32.6 52.5,32.8 53.5,33.0 54.4,33.2 55.4,33.5 56.3,33.8 57.3,34.2 58.2,34.6 59.0,35.1 59.9,35.6 60.8,36.1 61.6,36.7 62.4,37.3 63.2,37.9 64.0,38.6 64.8,39.3 65.5,40.0 66.3,40.7 67.0,41.5 67.7,42.2 68.4,43.0 69.1,43.8 69.8,44.6 70.5,45.4 71.1,46.2 71.8,47.0 72.4,47.8 73.0,48.7 73.7,49.5 74.3,50.3 74.9,51.2 75.5,52.0 76.1,52.9 76.7,53.8 77.2,54.7 77.8,55.5 78.4,56.4 78.9,57.3 79.5,58.2 80.0,59.1 80.5,60.0 81.1,60.9 81.6,61.8 82.1,62.7 82.6,63.6 83.2,64.5 83.7,65.4 84.2,66.3 84.7,67.2 85.2,68.1 85.7,69.0 86.2,69.9 86.6,70.9 87.1,71.8 87.6,72.7 88.1,73.6 88.6,74.5 89.0,75.5 89.5,76.4 90.0,77.3 90.4,78.3 90.9,79.2 91.3,80.1 91.8,81.0 92.2,82.0 92.7,82.9 93.1,83.9 93.5,84.8 94.0,85.7 94.4,86.7 94.8,87.6 95.2,88.6 95.6,89.5 96.1,90.5 96.5,91.4 96.9,92.4 97.3,93.3 97.7,94.3 98.1,95.2 98.5,96.2 98.9,97.1 99.3,98.1 99.7,99.0 100.1,100.0 100.5,101.0 100.8,101.9 101.2,102.9 101.6,103.8 102.0,104.8 102.4,105.8 102.7,106.7 103.1,107.7 103.5,108.7 103.8,109.6 104.2,110.6 104.6,111.6 104.9,112.6 105.3,113.5 105.6,114.5 106.0,115.5 106.3,116.4 106.7,117.4 107.0,118.4 107.4,119.4 107.7,120.4 108.1,121.3 108.4,122.3 108.8,123.3 109.1,124.3 109.4,125.2 109.8,126.2 110.1,127.2 110.4,128.2 110.8,129.2 111.1,130.2 111.4,131.1 111.8,132.1 112.1,133.1 112.4,134.1 112.8,135.1 113.1,136.1 113.4,137.0 113.7,138.0 114.1,139.0 114.4,140.0 114.7,141.0 115.0,142.0 115.3,143.0 115.7,143.9 116.0,144.9 116.3,145.9 116.6,146.9 116.9,147.9 117.3,148.9 117.6,149.9 117.9,150.9 118.2,151.9 118.5,152.8 118.9,153.8 119.2,154.8 119.5,155.8 119.8,156.8 120.1,157.8 120.4,158.8 120.8,159.8 121.1,160.7 121.4,161.7 121.7,162.7 122.0,163.7 122.4,164.7 122.7,165.7 123.0,166.7 123.3,167.7 123.6,168.6 124.0,169.6 124.3,170.6 124.6,171.6" stroke="#83b626"/>
<path d="M52.3,105.2 52.9,104.0 53.5,102.7 54.1,101.4 54.8,100.2 55.6,99.0 56.4,97.8 57.3,96.6 58.2,95.5 59.2,94.4 60.2,93.3 61.2,92.3 62.4,91.4 63.5,90.5 64.7,89.7 65.9,89.0 67.2,88.4 68.4,87.9 69.7,87.4 71.1,87.0 72.4,86.7 73.7,86.5 75.1,86.4 76.4,86.4 77.8,86.6 79.1,86.8 80.4,87.1 81.7,87.5 83.0,88.0 84.3,88.5 85.5,89.2 86.7,89.9 87.9,90.7 89.0,91.5 90.1,92.4 91.1,93.4 92.1,94.4 93.0,95.4 93.8,96.5 94.7,97.7 95.4,98.8 96.1,100.0 96.8,101.2 97.5,102.5 98.1,103.7 98.7,105.0 99.2,106.3 99.8,107.7 100.3,109.0 100.8,110.3 101.3,111.7 101.8,113.0 102.2,114.3 102.7,115.7 103.2,117.0 103.6,118.4 104.1,119.7 104.5,121.1 104.9,122.4 105.4,123.8 105.8,125.1 106.2,126.5 106.6,127.8 107.0,129.2 107.4,130.6 107.8,131.9 108.2,133.3 108.5,134.6 108.9,136.0 109.3,137.4 109.6,138.7 110.0,140.1 110.3,141.4 110.7,142.8 111.0,144.2 111.3,145.5 111.6,146.9 112.0,148.3 112.3,149.6 112.6,151.0 112.9,152.4 113.2,153.7 113.5,155.1 113.8,156.5 114.1,157.9 114.4,159.2 114.6,160.6 114.9,162.0 115.2,163.4 115.5,164.7 115.7,166.1 116.0,167.5 116.3,168.9 116.5,170.2 116.8,171.6 117.0,173.0 117.3,174.4 117.5,175.8 117.8,177.1 118.0,178.5 118.2,179.9 118.5,181.3 118.7,182.7 118.9,184.0 119.2,185.4 119.4,186.8 119.6,188.2 119.9,189.6 120.1,190.9 120.3,192.3 120.5,193.7 120.8,195.1 121.0,196.5 121.2,197.9 121.4,199.3 121.6,200.6 121.9,202.0 122.1,203.4 122.3,204.8 122.5,206.2 122.7,207.6 122.9,208.9 123.2,210.3 123.4,211.7 123.6,213.1 123.8,214.5 124.0,215.9 124.3,217.3 124.5,218.6 124.7,220.0 124.9,221.4 125.2,222.8 125.4,224.2 125.6,225.6 125.9,227.0 126.1,228.3 126.3,229.7 126.6,231.1 126.8,232.5 127.0,233.9 127.3,235.3 127.5,236.6 127.8,238.0 128.0,239.4 128.3,240.8 128.5,242.2 128.8,243.6 129.1,244.9 129.3,246.3 129.6,247.7 129.9,249.1 130.1,250.5 130.4,251.9 130.7,253.2 131.0,254.6 131.3,256.0 131.6,257.4 131.9,258.7 132.2,260.1 132.5,261.5" stroke="#e9343a"/>
<path d="M55.3,116.3 55.8,115.6 56.2,114.9 56.6,114.1 57.1,113.4 57.5,112.7 57.9,111.9 58.3,111.1 58.7,110.4 59.1,109.6 59.5,108.8 59.9,108.0 60.3,107.2 60.6,106.4 61.0,105.6 61.4,104.8 61.8,104.0 62.1,103.2 62.5,102.4 62.9,101.6 63.3,100.8 63.7,100.0 64.0,99.2 64.4,98.4 64.8,97.6 65.2,96.8 65.6,96.0 66.0,95.2 66.5,94.4 66.9,93.6 67.3,92.9 67.8,92.1 68.2,91.3 68.7,90.6 69.1,89.8 69.6,89.1 70.1,88.4 70.6,87.7 71.2,87.0 71.7,86.3 72.3,85.6 72.8,85.0 73.4,84.3 74.0,83.7 74.6,83.1 75.3,82.5 75.9,81.9 76.6,81.3 77.3,80.8 78.0,80.2 78.8,79.7 79.5,79.3 80.3,78.8 81.1,78.4 81.9,78.0 82.7,77.7 83.5,77.4 84.3,77.2 85.1,77.0 86.0,76.8 86.8,76.7 87.6,76.7 88.5,76.7 89.3,76.8 90.1,77.0 91.0,77.2 91.8,77.5 92.6,77.8 93.4,78.1 94.2,78.5 94.9,78.9 95.7,79.3 96.4,79.8 97.1,80.3 97.8,80.8 98.5,81.3 99.1,81.8 99.8,82.4 100.4,83.0 101.0,83.6 101.6,84.2 102.2,84.8 102.7,85.5 103.3,86.2 103.8,86.9 104.3,87.6 104.8,88.3 105.3,89.0 105.8,89.8 106.2,90.5 106.7,91.3 107.1,92.0 107.5,92.8 107.9,93.6 108.3,94.4 108.7,95.2 109.1,96.0 109.5,96.9 109.9,97.7 110.2,98.5 110.6,99.4 110.9,100.2 111.3,101.0 111.6,101.9 111.9,102.7 112.2,103.6 112.6,104.4 112.9,105.3 113.2,106.1 113.5,106.9 113.8,107.8 114.1,108.6 114.4,109.4 114.7,110.3 114.9,111.1 115.2,111.9 115.5,112.8 115.8,113.6 116.0,114.4 116.3,115.2 116.6,116.0 116.9,116.9 117.1,117.7 117.4,118.5 117.6,119.3 117.9,120.2 118.1,121.0 118.4,121.8 118.6,122.6 118.9,123.4 119.1,124.3 119.4,125.1 119.6,125.9 119.9,126.7 120.1,127.5 120.4,128.4 120.6,129.2 120.8,130.0 121.1,130.8 121.3,131.7 121.6,132.5 121.8,133.3 122.0,134.1 122.3,135.0 122.5,135.8 122.8,136.6 123.0,137.5 123.2,138.3 123.5,139.2 123.7,140.0 124.0,140.9 124.2,141.7 124.4,142.6 124.7,143.4 124.9,144.3 125.2,145.1 125.4,146.0 125.7,146.9 125.9,147.7 126.2,148.6" stroke="#f89b40"/>
<path d="M151.7,137.4 153.1,137.0 154.5,136.8 155.8,136.7 157.1,136.7 158.3,136.9 159.5,137.2 160.7,137.6 161.8,138.0 162.9,138.6 163.9,139.3 164.9,140.0 165.8,140.9 166.8,141.7 167.7,142.7 168.5,143.7 169.3,144.7 170.1,145.7 170.9,146.8 171.6,147.9 172.3,149.0 173.0,150.2 173.7,151.3 174.3,152.5 174.9,153.7 175.5,154.9 176.1,156.1 176.7,157.3 177.2,158.6 177.8,159.8 178.3,161.0 178.9,162.3 179.4,163.5 179.9,164.7 180.4,165.9 180.9,167.1 181.4,168.3 181.9,169.6 182.4,170.8 182.9,172.0 183.4,173.2 183.9,174.4 184.4,175.6 184.8,176.8 185.3,178.0 185.8,179.3 186.2,180.5 186.7,181.7 187.1,182.9 187.6,184.1 188.0,185.3 188.4,186.6 188.9,187.8 189.3,189.0 189.7,190.3 190.1,191.5 190.6,192.7 191.0,194.0 191.4,195.2 191.8,196.4 192.2,197.7 192.6,198.9 193.0,200.2 193.4,201.4 193.8,202.7 194.2,203.9 194.6,205.2 195.0,206.4 195.4,207.7 195.8,208.9 196.2,210.2 196.5,211.4 196.9,212.7 197.3,214.0 197.7,215.2 198.1,216.5 198.5,217.7 198.8,219.0 199.2,220.2 199.6,221.5 200.0,222.8 200.4,224.0 200.7,225.3 201.1,226.6 201.5,227.8 201.9,229.1 202.2,230.3 202.6,231.6 203.0,232.9 203.4,234.1 203.8,235.4 204.2,236.6 204.5,237.9 204.9,239.2 205.3,240.4 205.7,241.7 206.1,242.9 206.5,244.2 206.9,245.4 207.3,246.7 207.7,248.0 208.1,249.2 208.5,250.5 208.9,251.7 209.3,253.0 209.7,254.2 210.1,255.5 210.5,256.7 211.0,257.9 211.4,259.2 211.8,260.4 212.2,261.7 212.7,262.9 213.1,264.1 213.6,265.4 214.0,266.6 214.5,267.8 214.9,269.1 215.4,270.3 215.8,271.5 216.3,272.7 216.8,274.0 217.3,275.2 217.7,276.4 218.2,277.6 218.7,278.8 219.2,280.0 219.7,281.2 220.2,282.4 220.8,283.6 221.3,284.8 221.8,286.0 222.3,287.2 222.9,288.4 223.4,289.6 224.0,290.8 224.5,292.0 225.1,293.1 225.7,294.3 226.3,295.5 226.9,296.6 227.5,297.8 228.1,299.0 228.7,300.1 229.3,301.3 229.9,302.4 230.6,303.6 231.2,304.7 231.8,305.9 232.5,307.0 233.2,308.1 233.9,309.2 234.5,310.4 235.2,311.5 235.9,312.6 236.7,313.7 237.4,314.8 238.1,315.9 238.9,317.0 239.6,318.1" stroke="#4ea6cc"/>
<path d="M157.7,192.3 158.7,192.2 159.6,192.2 160.6,192.3 161.5,192.4 162.4,192.5 163.2,192.7 164.0,193.0 164.8,193.3 165.6,193.6 166.4,194.0 167.1,194.5 167.8,194.9 168.5,195.5 169.2,196.0 169.8,196.6 170.5,197.2 171.1,197.8 171.7,198.4 172.3,199.1 172.9,199.8 173.5,200.5 174.1,201.2 174.6,201.9 175.2,202.7 175.7,203.4 176.2,204.2 176.8,204.9 177.3,205.7 177.8,206.4 178.3,207.2 178.8,208.0 179.3,208.7 179.8,209.5 180.3,210.3 180.8,211.0 181.2,211.8 181.7,212.6 182.2,213.4 182.6,214.2 183.1,215.0 183.6,215.8 184.0,216.6 184.4,217.3 184.9,218.1 185.3,218.9 185.8,219.7 186.2,220.5 186.6,221.4 187.0,222.2 187.5,223.0 187.9,223.8 188.3,224.6 188.7,225.4 189.1,226.2 189.5,227.0 189.9,227.9 190.3,228.7 190.7,229.5 191.1,230.3 191.5,231.1 191.9,232.0 192.3,232.8 192.7,233.6 193.1,234.4 193.5,235.2 193.9,236.1 194.3,236.9 194.6,237.7 195.0,238.6 195.4,239.4 195.8,240.2 196.2,241.0 196.5,241.9 196.9,242.7 197.3,243.5 197.7,244.4 198.0,245.2 198.4,246.0 198.8,246.8 199.2,247.7 199.5,248.5 199.9,249.3 200.3,250.2 200.7,251.0 201.0,251.8 201.4,252.7 201.8,253.5 202.2,254.3 202.5,255.1 202.9,256.0 203.3,256.8 203.7,257.6 204.0,258.5 204.4,259.3 204.8,260.1 205.2,260.9 205.6,261.8 205.9,262.6 206.3,263.4 206.7,264.2 207.1,265.1 207.5,265.9 207.9,266.7 208.3,267.5 208.6,268.3 209.0,269.1 209.4,270.0 209.8,270.8 210.2,271.6 210.6,272.4 211.0,273.2 211.4,274.0 211.8,274.8 212.3,275.6 212.7,276.4 213.1,277.2 213.5,278.0 213.9,278.8 214.3,279.6 214.8,280.4 215.2,281.2 215.6,282.0 216.1,282.8 216.5,283.6 217.0,284.4 217.4,285.2 217.8,286.0 218.3,286.7 218.8,287.5 219.2,288.3 219.7,289.1 220.1,289.8 220.6,290.6 221.1,291.4 221.6,292.1 222.1,292.9 222.5,293.7 223.0,294.4 223.5,295.2 224.0,295.9 224.5,296.7 225.0,297.4 225.6,298.2 226.1,298.9 226.6,299.7 227.1,300.4 227.7,301.1 228.2,301.9 228.7,302.6 229.3,303.3 229.9,304.0 230.4,304.8 231.0,305.5 231.5,306.2 232.1,306.9 232.7,307.6 233.3,308.3 233.9,309.0 234.5,309.7" stroke="#83b626"/>
<path d="M162.3,222.6 163.0,222.0 163.7,221.5 164.5,220.9 165.3,220.4 166.1,220.0 166.9,219.6 167.7,219.2 168.6,218.8 169.5,218.4 170.4,218.1 171.3,217.9 172.2,217.6 173.1,217.4 174.0,217.3 175.0,217.2 175.9,217.1 176.8,217.0 177.7,217.0 178.6,217.0 179.5,217.1 180.4,217.2 181.3,217.4 182.1,217.6 183.0,217.8 183.8,218.1 184.6,218.4 185.4,218.7 186.1,219.1 186.9,219.6 187.6,220.0 188.3,220.5 189.0,221.0 189.7,221.5 190.4,222.1 191.1,222.7 191.7,223.3 192.3,224.0 192.9,224.6 193.6,225.3 194.2,226.0 194.7,226.7 195.3,227.4 195.9,228.1 196.4,228.9 197.0,229.6 197.5,230.4 198.0,231.2 198.5,231.9 199.1,232.7 199.6,233.5 200.1,234.3 200.6,235.0 201.0,235.8 201.5,236.6 202.0,237.4 202.4,238.2 202.9,239.0 203.3,239.8 203.8,240.6 204.2,241.4 204.7,242.2 205.1,243.0 205.5,243.8 205.9,244.6 206.3,245.4 206.7,246.3 207.1,247.1 207.5,247.9 207.9,248.7 208.3,249.5 208.7,250.4 209.1,251.2 209.4,252.0 209.8,252.9 210.2,253.7 210.5,254.5 210.9,255.4 211.2,256.2 211.6,257.0 211.9,257.9 212.3,258.7 212.6,259.6 213.0,260.4 213.3,261.3 213.6,262.1 214.0,262.9 214.3,263.8 214.6,264.6 215.0,265.5 215.3,266.3 215.6,267.2 215.9,268.0 216.2,268.9 216.6,269.7 216.9,270.6 217.2,271.4 217.5,272.3 217.8,273.1 218.2,274.0 218.5,274.8 218.8,275.7 219.1,276.5 219.4,277.4 219.7,278.3 220.1,279.1 220.4,280.0 220.7,280.8 221.0,281.6 221.3,282.5 221.7,283.3 222.0,284.2 222.3,285.0 222.6,285.9 223.0,286.7 223.3,287.6 223.6,288.4 224.0,289.3 224.3,290.1 224.7,290.9 225.0,291.8 225.3,292.6 225.7,293.4 226.0,294.3 226.4,295.1 226.8,295.9 227.1,296.8 227.5,297.6 227.9,298.4 228.2,299.2 228.6,300.1 229.0,300.9 229.4,301.7 229.8,302.5 230.2,303.3 230.6,304.1 231.0,304.9 231.4,305.7 231.8,306.5 232.2,307.3 232.7,308.1 233.1,308.9 233.6,309.7 234.0,310.5 234.5,311.3 234.9,312.1 235.4,312.9 235.9,313.6 236.3,314.4 236.8,315.2 237.3,316.0 237.8,316.7 238.3,317.5 238.8,318.2 239.4,319.0 239.9,319.7 240.4,320.5 241.0,321.2 241.5,322.0 242.1,322.7" stroke="#e9343a"/>
<path d="M165.3,179.8 165.9,179.3 166.6,178.7 167.3,178.2 168.1,177.6 168.9,177.0 169.7,176.5 170.5,175.9 171.4,175.4 172.3,175.0 173.1,174.5 174.1,174.1 175.0,173.8 175.9,173.5 176.8,173.2 177.7,173.1 178.7,173.0 179.6,173.0 180.5,173.0 181.4,173.2 182.3,173.4 183.1,173.7 184.0,174.0 184.8,174.4 185.7,174.9 186.5,175.4 187.2,175.9 188.0,176.5 188.7,177.0 189.4,177.6 190.1,178.2 190.7,178.9 191.4,179.5 192.0,180.2 192.5,180.9 193.1,181.6 193.7,182.4 194.2,183.1 194.7,183.9 195.2,184.6 195.7,185.4 196.1,186.2 196.6,187.1 197.0,187.9 197.4,188.7 197.8,189.6 198.2,190.4 198.6,191.3 199.0,192.2 199.4,193.0 199.7,193.9 200.1,194.8 200.4,195.7 200.8,196.6 201.1,197.5 201.4,198.4 201.8,199.3 202.1,200.2 202.4,201.1 202.7,202.0 203.0,202.9 203.3,203.8 203.7,204.7 204.0,205.6 204.3,206.5 204.6,207.4 204.9,208.3 205.2,209.2 205.5,210.1 205.8,211.0 206.2,211.9 206.5,212.8 206.8,213.7 207.1,214.5 207.4,215.4 207.7,216.3 208.0,217.2 208.3,218.1 208.6,218.9 208.9,219.8 209.2,220.7 209.5,221.6 209.9,222.5 210.2,223.3 210.5,224.2 210.8,225.1 211.1,226.0 211.4,226.8 211.7,227.7 212.0,228.6 212.3,229.5 212.6,230.3 212.9,231.2 213.3,232.1 213.6,233.0 213.9,233.8 214.2,234.7 214.5,235.6 214.8,236.4 215.1,237.3 215.5,238.2 215.8,239.1 216.1,239.9 216.4,240.8 216.7,241.7 217.1,242.6 217.4,243.4 217.7,244.3 218.0,245.2 218.4,246.1 218.7,247.0 219.0,247.8 219.4,248.7 219.7,249.6 220.0,250.5 220.4,251.4 220.7,252.2 221.0,253.1 221.4,254.0 221.7,254.9 222.0,255.8 222.4,256.7 222.7,257.6 223.1,258.4 223.4,259.3 223.7,260.2 224.1,261.1 224.4,262.0 224.7,262.9 225.1,263.8 225.4,264.6 225.7,265.5 226.0,266.4 226.4,267.3 226.7,268.2 227.0,269.1 227.3,269.9 227.6,270.8 227.9,271.7 228.3,272.6 228.6,273.5 228.9,274.4 229.2,275.2 229.5,276.1 229.8,277.0 230.1,277.9 230.4,278.7 230.7,279.6 231.1,280.5 231.4,281.3 231.8,282.2 232.1,283.0 232.5,283.9 232.9,284.7 233.4,285.5 233.8,286.4 234.3,287.2 234.7,288.0 235.3,288.8 235.8,289.6" stroke="#f89b40"/>
<path d="M261.9,180.2 262.2,179.4 262.4,178.6 262.7,177.8 263.0,177.0 263.3,176.2 263.5,175.4 263.8,174.6 264.1,173.8 264.3,173.0 264.6,172.2 264.9,171.4 265.2,170.5 265.4,169.7 265.7,168.9 266.0,168.1 266.3,167.3 266.6,166.5 266.9,165.6 267.2,164.8 267.5,164.0 267.8,163.2 268.1,162.4 268.4,161.6 268.7,160.8 269.0,160.0 269.3,159.2 269.6,158.4 270.0,157.6 270.3,156.8 270.6,156.0 271.0,155.2 271.3,154.4 271.7,153.6 272.0,152.8 272.4,152.1 272.8,151.3 273.2,150.5 273.6,149.8 274.0,149.0 274.4,148.3 274.8,147.5 275.2,146.8 275.6,146.0 276.1,145.3 276.5,144.6 277.0,143.9 277.4,143.2 277.9,142.5 278.4,141.8 278.9,141.1 279.4,140.4 279.9,139.8 280.4,139.1 280.9,138.5 281.5,137.8 282.0,137.2 282.6,136.6 283.1,135.9 283.7,135.3 284.3,134.7 284.9,134.1 285.5,133.5 286.1,132.9 286.7,132.3 287.3,131.8 288.0,131.2 288.6,130.6 289.2,130.0 289.8,129.4 290.5,128.9 291.1,128.3 291.7,127.7 292.4,127.1 293.0,126.5 293.6,126.0 294.2,125.4 294.9,124.8 295.5,124.2 296.1,123.6 296.7,123.0 297.3,122.4 297.9,121.8 298.5,121.1 299.1,120.5 299.7,119.9 300.3,119.2 300.8,118.6 301.4,117.9 301.9,117.3 302.5,116.6 303.0,115.9 303.6,115.2 304.1,114.6 304.6,113.9 305.2,113.2 305.7,112.5 306.2,111.8 306.7,111.1 307.3,110.4 307.8,109.7 308.3,109.0 308.8,108.3 309.3,107.6 309.9,106.9 310.4,106.2 310.9,105.5 311.4,104.9 311.9,104.2 312.5,103.5 313.0,102.8 313.6,102.2 314.1,101.5 314.6,100.9 315.2,100.2 315.7,99.6 316.3,98.9 316.9,98.3 317.5,97.7 318.0,97.1 318.6,96.5 319.2,95.9 319.9,95.3 320.5,94.8 321.1,94.2 321.7,93.7 322.4,93.2 323.0,92.7 323.7,92.2 324.4,91.7 325.1,91.2 325.8,90.8 326.5,90.3 327.3,89.9 328.0,89.5 328.8,89.1 329.6,88.8 330.3,88.4 331.1,88.1 331.9,87.8 332.8,87.5 333.6,87.2 334.4,87.0 335.2,86.8 336.1,86.6 336.9,86.4 337.8,86.3 338.6,86.2 339.5,86.1 340.4,86.1 341.2,86.0 342.1,86.0 342.9,86.1 343.8,86.1 344.7,86.2 345.5,86.4 346.4,86.5 347.2,86.7 348.1,86.9 348.9,87.2" stroke="#4ea6cc"/>
<path d="M268.2,126.2 268.4,125.6 268.7,125.0 268.9,124.5 269.2,123.9 269.5,123.3 269.7,122.8 270.0,122.2 270.3,121.7 270.6,121.1 270.9,120.6 271.2,120.1 271.5,119.5 271.9,119.0 272.2,118.5 272.5,118.0 272.8,117.5 273.2,116.9 273.5,116.4 273.9,115.9 274.2,115.4 274.6,114.9 275.0,114.5 275.4,114.0 275.7,113.5 276.1,113.0 276.5,112.5 276.9,112.1 277.3,111.6 277.7,111.2 278.1,110.7 278.5,110.3 278.9,109.8 279.4,109.4 279.8,108.9 280.2,108.5 280.7,108.1 281.1,107.6 281.5,107.2 282.0,106.8 282.4,106.4 282.9,106.0 283.4,105.6 283.8,105.2 284.3,104.8 284.8,104.4 285.2,104.0 285.7,103.7 286.2,103.3 286.7,102.9 287.1,102.5 287.6,102.2 288.1,101.8 288.6,101.4 289.1,101.1 289.6,100.7 290.1,100.4 290.6,100.0 291.1,99.7 291.6,99.3 292.1,99.0 292.6,98.7 293.1,98.3 293.7,98.0 294.2,97.6 294.7,97.3 295.2,97.0 295.7,96.7 296.2,96.3 296.7,96.0 297.3,95.7 297.8,95.3 298.3,95.0 298.8,94.7 299.3,94.3 299.9,94.0 300.4,93.7 300.9,93.4 301.4,93.0 301.9,92.7 302.4,92.4 303.0,92.0 303.5,91.7 304.0,91.3 304.5,91.0 305.0,90.7 305.5,90.3 306.0,90.0 306.6,89.6 307.1,89.3 307.6,88.9 308.1,88.6 308.6,88.2 309.1,87.9 309.6,87.5 310.1,87.1 310.6,86.8 311.0,86.4 311.5,86.0 312.0,85.7 312.5,85.3 313.0,84.9 313.5,84.5 314.0,84.2 314.5,83.8 315.0,83.4 315.4,83.0 315.9,82.7 316.4,82.3 316.9,81.9 317.4,81.5 317.9,81.2 318.4,80.8 318.9,80.4 319.3,80.0 319.8,79.7 320.3,79.3 320.8,79.0 321.3,78.6 321.8,78.2 322.3,77.9 322.8,77.5 323.3,77.2 323.8,76.9 324.3,76.5 324.8,76.2 325.3,75.9 325.9,75.5 326.4,75.2 326.9,74.9 327.4,74.6 327.9,74.3 328.5,74.0 329.0,73.7 329.5,73.4 330.1,73.2 330.6,72.9 331.2,72.6 331.7,72.4 332.3,72.1 332.8,71.9 333.4,71.6 334.0,71.4 334.5,71.2 335.1,71.0 335.7,70.7 336.3,70.5 336.8,70.3 337.4,70.2 338.0,70.0 338.6,69.8 339.2,69.6 339.8,69.5 340.4,69.3 341.0,69.2 341.6,69.1 342.2,68.9 342.9,68.8 343.5,68.7 344.1,68.6" stroke="#83b626"/>
<path d="M272.4,157.4 272.6,156.7 272.7,156.0 272.9,155.3 273.1,154.5 273.3,153.8 273.4,153.1 273.6,152.4 273.8,151.7 273.9,150.9 274.1,150.2 274.3,149.5 274.4,148.8 274.6,148.0 274.7,147.3 274.9,146.6 275.1,145.8 275.2,145.1 275.4,144.4 275.6,143.6 275.7,142.9 275.9,142.2 276.1,141.4 276.2,140.7 276.4,140.0 276.6,139.2 276.7,138.5 276.9,137.7 277.1,137.0 277.3,136.3 277.5,135.5 277.7,134.8 277.8,134.1 278.0,133.3 278.2,132.6 278.4,131.9 278.6,131.2 278.8,130.4 279.1,129.7 279.3,129.0 279.5,128.3 279.7,127.5 279.9,126.8 280.2,126.1 280.4,125.4 280.7,124.7 280.9,124.0 281.2,123.2 281.4,122.5 281.7,121.8 282.0,121.1 282.3,120.4 282.5,119.7 282.8,119.0 283.1,118.4 283.4,117.7 283.8,117.0 284.1,116.3 284.4,115.7 284.8,115.0 285.1,114.4 285.5,113.7 285.9,113.1 286.3,112.5 286.7,111.9 287.1,111.3 287.5,110.7 288.0,110.1 288.5,109.6 288.9,109.0 289.4,108.5 289.9,108.0 290.5,107.5 291.0,107.0 291.5,106.5 292.1,106.0 292.7,105.6 293.3,105.1 293.9,104.7 294.5,104.3 295.1,103.9 295.7,103.5 296.3,103.1 297.0,102.7 297.6,102.3 298.3,102.0 298.9,101.6 299.6,101.2 300.3,100.9 300.9,100.6 301.6,100.2 302.3,99.9 302.9,99.6 303.6,99.3 304.3,99.0 305.0,98.7 305.7,98.4 306.4,98.1 307.1,97.8 307.8,97.5 308.5,97.3 309.2,97.0 309.9,96.7 310.6,96.5 311.3,96.3 312.0,96.0 312.7,95.8 313.5,95.6 314.2,95.4 314.9,95.2 315.6,95.0 316.4,94.8 317.1,94.6 317.8,94.4 318.5,94.2 319.3,94.1 320.0,93.9 320.8,93.7 321.5,93.6 322.2,93.5 323.0,93.3 323.7,93.2 324.5,93.1 325.2,93.0 325.9,92.9 326.7,92.8 327.4,92.7 328.2,92.6 328.9,92.5 329.7,92.4 330.4,92.4 331.2,92.3 331.9,92.3 332.7,92.2 333.4,92.2 334.2,92.2 334.9,92.1 335.7,92.1 336.4,92.1 337.2,92.1 337.9,92.1 338.7,92.1 339.4,92.1 340.2,92.2 340.9,92.2 341.7,92.2 342.4,92.3 343.2,92.3 343.9,92.4 344.6,92.5 345.4,92.5 346.1,92.6 346.9,92.7 347.6,92.8 348.3,92.9 349.1,93.0 349.8,93.1 350.5,93.2 351.3,93.4 352.0,93.5" stroke="#e9343a"/>
<path d="M275.3,122.8 275.6,122.2 275.9,121.7 276.2,121.1 276.4,120.5 276.7,119.9 277.0,119.4 277.3,118.8 277.5,118.2 277.8,117.6 278.1,117.0 278.4,116.4 278.6,115.8 278.9,115.2 279.2,114.7 279.4,114.1 279.7,113.5 280.0,112.9 280.3,112.3 280.5,111.7 280.8,111.1 281.1,110.5 281.4,109.9 281.7,109.3 282.0,108.8 282.2,108.2 282.5,107.6 282.8,107.0 283.1,106.4 283.4,105.8 283.8,105.3 284.1,104.7 284.4,104.1 284.7,103.6 285.0,103.0 285.4,102.4 285.7,101.9 286.0,101.3 286.4,100.7 286.7,100.2 287.1,99.6 287.4,99.1 287.8,98.5 288.1,98.0 288.5,97.4 288.8,96.9 289.2,96.3 289.5,95.8 289.9,95.2 290.2,94.7 290.6,94.1 291.0,93.6 291.3,93.1 291.7,92.5 292.1,92.0 292.4,91.5 292.8,90.9 293.2,90.4 293.6,89.9 293.9,89.3 294.3,88.8 294.7,88.3 295.1,87.8 295.4,87.2 295.8,86.7 296.2,86.2 296.6,85.7 297.0,85.2 297.4,84.6 297.7,84.1 298.1,83.6 298.5,83.1 298.9,82.6 299.3,82.1 299.7,81.5 300.1,81.0 300.5,80.5 300.9,80.0 301.3,79.5 301.7,79.0 302.1,78.5 302.5,78.0 302.9,77.4 303.3,76.9 303.8,76.4 304.2,76.0 304.6,75.5 305.1,75.0 305.5,74.5 306.0,74.0 306.5,73.5 306.9,73.1 307.4,72.6 307.9,72.1 308.4,71.7 308.9,71.2 309.4,70.8 309.9,70.4 310.4,69.9 310.9,69.5 311.4,69.1 312.0,68.7 312.5,68.3 313.0,68.0 313.6,67.6 314.1,67.2 314.7,66.9 315.2,66.5 315.8,66.2 316.3,65.9 316.9,65.6 317.5,65.3 318.1,65.1 318.6,64.8 319.2,64.5 319.8,64.3 320.4,64.1 321.0,63.9 321.6,63.7 322.2,63.5 322.8,63.4 323.4,63.2 324.0,63.1 324.7,63.0 325.3,62.9 325.9,62.8 326.5,62.8 327.2,62.8 327.8,62.8 328.4,62.8 329.1,62.8 329.7,62.8 330.4,62.9 331.0,63.0 331.7,63.1 332.3,63.2 332.9,63.3 333.6,63.5 334.2,63.7 334.9,63.9 335.5,64.1 336.2,64.3 336.8,64.5 337.4,64.8 338.0,65.1 338.6,65.4 339.3,65.6 339.9,66.0 340.4,66.3 341.0,66.6 341.6,67.0 342.2,67.3 342.7,67.7 343.2,68.1 343.8,68.4 344.3,68.8 344.8,69.2 345.3,69.7 345.7,70.1 346.2,70.5" stroke="#f89b40"/>
<path d="M372.0,127.4 372.2,126.6 372.5,125.8 372.8,124.9 373.1,124.0 373.6,123.1 374.0,122.1 374.5,121.1 375.1,120.2 375.7,119.3 376.3,118.4 377.0,117.5 377.7,116.7 378.4,116.0 379.2,115.3 380.0,114.7 380.8,114.3 381.7,113.9 382.5,113.7 383.4,113.6 384.3,113.5 385.2,113.6 386.1,113.8 387.0,114.0 387.9,114.3 388.8,114.7 389.7,115.1 390.5,115.5 391.4,116.0 392.2,116.6 393.0,117.1 393.8,117.7 394.6,118.3 395.3,118.9 396.1,119.5 396.8,120.2 397.5,120.9 398.2,121.6 398.9,122.3 399.6,123.0 400.2,123.7 400.9,124.5 401.6,125.2 402.2,126.0 402.9,126.7 403.5,127.5 404.2,128.2 404.9,129.0 405.5,129.7 406.2,130.5 406.9,131.2 407.5,131.9 408.2,132.6 408.9,133.3 409.7,134.0 410.4,134.7 411.1,135.3 411.9,136.0 412.6,136.6 413.4,137.2 414.2,137.8 415.0,138.4 415.8,139.0 416.6,139.5 417.4,140.1 418.2,140.7 419.0,141.2 419.8,141.8 420.6,142.4 421.3,143.0 422.1,143.6 422.9,144.1 423.7,144.7 424.4,145.4 425.2,146.0 425.9,146.6 426.7,147.3 427.4,147.9 428.1,148.6 428.7,149.3 429.4,150.1 430.0,150.8 430.7,151.5 431.3,152.3 431.9,153.1 432.5,153.9 433.1,154.7 433.6,155.5 434.2,156.3 434.7,157.2 435.2,158.0 435.7,158.9 436.2,159.7 436.7,160.6 437.2,161.4 437.6,162.3 438.1,163.2 438.5,164.1 438.9,165.0 439.4,165.9 439.8,166.8 440.1,167.7 440.5,168.6 440.9,169.5 441.3,170.4 441.6,171.3 442.0,172.2 442.3,173.1 442.6,174.0 443.0,175.0 443.3,175.9 443.6,176.8 443.9,177.7 444.2,178.7 444.5,179.6 444.9,180.5 445.2,181.5 445.5,182.4 445.8,183.3 446.1,184.3 446.3,185.2 446.6,186.1 446.9,187.1 447.2,188.0 447.5,188.9 447.8,189.9 448.1,190.8 448.5,191.8 448.8,192.7 449.1,193.6 449.4,194.5 449.7,195.5 450.1,196.4 450.4,197.3 450.7,198.3 451.1,199.2 451.4,200.1 451.8,201.0 452.1,201.9 452.5,202.9 452.8,203.8 453.2,204.7 453.6,205.6 453.9,206.5 454.3,207.4 454.7,208.4 455.0,209.3 455.4,210.2 455.7,211.1 456.1,212.0 456.4,212.9 456.8,213.9 457.1,214.8 457.4,215.7 457.8,216.6 458.1,217.6 458.4,218.5 458.7,219.4 459.0,220.4 459.3,221.3" stroke="#4ea6cc"/>
<path d="M378.0,98.6 378.8,98.4 379.7,98.2 380.5,98.1 381.3,98.0 382.0,98.0 382.8,98.0 383.6,98.1 384.3,98.2 385.0,98.3 385.7,98.5 386.4,98.7 387.1,99.0 387.8,99.2 388.4,99.5 389.1,99.9 389.8,100.2 390.4,100.6 391.1,100.9 391.7,101.3 392.3,101.7 393.0,102.1 393.6,102.5 394.3,102.9 394.9,103.3 395.6,103.7 396.2,104.1 396.9,104.5 397.5,104.9 398.2,105.4 398.8,105.8 399.5,106.2 400.1,106.6 400.8,107.0 401.5,107.4 402.1,107.8 402.8,108.2 403.4,108.6 404.1,109.0 404.8,109.4 405.4,109.8 406.1,110.2 406.7,110.7 407.4,111.1 408.0,111.5 408.7,111.9 409.3,112.4 409.9,112.8 410.6,113.2 411.2,113.7 411.8,114.1 412.5,114.5 413.1,115.0 413.7,115.4 414.3,115.9 415.0,116.4 415.6,116.8 416.2,117.3 416.8,117.8 417.4,118.2 417.9,118.7 418.5,119.2 419.1,119.7 419.7,120.2 420.2,120.7 420.8,121.2 421.4,121.8 421.9,122.3 422.5,122.8 423.0,123.3 423.5,123.9 424.1,124.4 424.6,125.0 425.1,125.5 425.6,126.1 426.1,126.6 426.6,127.2 427.1,127.8 427.6,128.3 428.1,128.9 428.6,129.5 429.1,130.1 429.5,130.7 430.0,131.3 430.5,131.9 430.9,132.5 431.4,133.1 431.8,133.7 432.3,134.3 432.7,134.9 433.1,135.5 433.6,136.2 434.0,136.8 434.4,137.4 434.8,138.1 435.3,138.7 435.7,139.3 436.1,140.0 436.5,140.6 436.9,141.3 437.3,141.9 437.7,142.6 438.0,143.3 438.4,143.9 438.8,144.6 439.2,145.3 439.5,145.9 439.9,146.6 440.3,147.3 440.6,148.0 441.0,148.6 441.3,149.3 441.7,150.0 442.0,150.7 442.4,151.4 442.7,152.1 443.0,152.8 443.4,153.5 443.7,154.2 444.0,154.9 444.3,155.6 444.7,156.3 445.0,157.0 445.3,157.7 445.6,158.4 445.9,159.1 446.2,159.8 446.5,160.5 446.8,161.2 447.1,161.9 447.4,162.6 447.7,163.4 447.9,164.1 448.2,164.8 448.5,165.5 448.8,166.2 449.0,166.9 449.3,167.7 449.6,168.4 449.9,169.1 450.1,169.8 450.4,170.5 450.6,171.3 450.9,172.0 451.1,172.7 451.4,173.4 451.6,174.1 451.9,174.9 452.1,175.6 452.4,176.3 452.6,177.0 452.9,177.8 453.1,178.5 453.3,179.2 453.6,179.9 453.8,180.6 454.0,181.4 454.2,182.1 454.5,182.8 454.7,183.5" stroke="#83b626"/>
<path d="M382.3,212.2 382.5,211.6 382.8,210.9 383.1,210.2 383.4,209.5 383.7,208.8 384.0,208.1 384.4,207.3 384.8,206.6 385.1,205.9 385.6,205.1 386.0,204.4 386.4,203.7 386.9,203.0 387.4,202.3 387.9,201.7 388.4,201.1 389.0,200.5 389.6,200.0 390.2,199.5 390.8,199.1 391.4,198.7 392.1,198.4 392.8,198.2 393.5,198.0 394.2,197.8 394.9,197.8 395.6,197.7 396.3,197.8 397.1,197.8 397.8,198.0 398.5,198.1 399.2,198.4 399.9,198.6 400.6,199.0 401.3,199.3 402.0,199.7 402.6,200.1 403.3,200.5 403.9,201.0 404.6,201.4 405.2,201.9 405.8,202.4 406.5,202.9 407.1,203.4 407.8,203.9 408.4,204.3 409.1,204.8 409.8,205.2 410.4,205.7 411.1,206.0 411.8,206.4 412.5,206.7 413.3,207.0 414.0,207.3 414.8,207.5 415.5,207.7 416.3,207.8 417.1,208.0 417.8,208.1 418.6,208.3 419.4,208.4 420.2,208.6 420.9,208.7 421.7,208.9 422.5,209.1 423.2,209.3 424.0,209.5 424.7,209.8 425.4,210.0 426.1,210.3 426.8,210.6 427.5,210.9 428.2,211.2 428.9,211.6 429.5,212.0 430.2,212.3 430.8,212.7 431.5,213.1 432.1,213.6 432.7,214.0 433.4,214.4 434.0,214.9 434.6,215.4 435.1,215.9 435.7,216.4 436.3,216.9 436.9,217.4 437.4,217.9 438.0,218.5 438.5,219.0 439.0,219.6 439.6,220.2 440.1,220.7 440.6,221.3 441.1,221.9 441.6,222.5 442.1,223.1 442.6,223.7 443.0,224.4 443.5,225.0 443.9,225.6 444.4,226.2 444.8,226.9 445.2,227.5 445.7,228.2 446.1,228.8 446.5,229.5 446.9,230.2 447.3,230.8 447.7,231.5 448.1,232.2 448.4,232.9 448.8,233.5 449.2,234.2 449.5,234.9 449.9,235.6 450.2,236.3 450.6,237.0 450.9,237.7 451.3,238.4 451.6,239.1 451.9,239.8 452.2,240.5 452.6,241.2 452.9,242.0 453.2,242.7 453.5,243.4 453.8,244.1 454.1,244.8 454.4,245.6 454.7,246.3 455.0,247.0 455.3,247.8 455.5,248.5 455.8,249.2 456.1,249.9 456.4,250.7 456.7,251.4 456.9,252.1 457.2,252.9 457.5,253.6 457.8,254.3 458.0,255.1 458.3,255.8 458.6,256.5 458.9,257.2 459.1,258.0 459.4,258.7 459.7,259.4 459.9,260.2 460.2,260.9 460.5,261.6 460.7,262.3 461.0,263.0 461.3,263.8 461.6,264.5 461.8,265.2 462.1,265.9 462.4,266.6" stroke="#e9343a"/>
<path d="M385.6,150.6 385.8,149.7 386.0,148.9 386.2,148.1 386.5,147.4 386.9,146.6 387.3,145.9 387.7,145.2 388.2,144.6 388.7,144.0 389.2,143.5 389.7,143.0 390.3,142.5 390.9,142.1 391.5,141.7 392.2,141.4 392.8,141.1 393.5,140.9 394.2,140.8 394.9,140.7 395.5,140.6 396.2,140.6 396.9,140.7 397.6,140.8 398.3,141.0 399.0,141.2 399.7,141.5 400.4,141.8 401.1,142.1 401.7,142.4 402.4,142.8 403.1,143.2 403.7,143.6 404.4,144.1 405.0,144.5 405.6,145.0 406.3,145.5 406.9,145.9 407.5,146.4 408.1,146.8 408.8,147.3 409.4,147.7 410.0,148.2 410.7,148.6 411.3,149.0 412.0,149.3 412.6,149.7 413.3,150.0 414.0,150.2 414.7,150.5 415.4,150.7 416.1,150.9 416.8,151.1 417.6,151.3 418.3,151.4 419.0,151.5 419.8,151.7 420.5,151.8 421.3,151.9 422.0,152.1 422.8,152.2 423.6,152.3 424.3,152.5 425.1,152.6 425.8,152.8 426.5,153.0 427.3,153.1 428.0,153.4 428.7,153.6 429.4,153.9 430.1,154.1 430.7,154.5 431.4,154.8 432.0,155.2 432.6,155.6 433.2,156.1 433.8,156.5 434.4,157.0 434.9,157.6 435.4,158.1 436.0,158.7 436.5,159.3 436.9,159.9 437.4,160.5 437.8,161.1 438.3,161.7 438.7,162.4 439.1,163.0 439.5,163.7 439.8,164.4 440.2,165.1 440.5,165.7 440.8,166.4 441.2,167.1 441.5,167.8 441.8,168.5 442.0,169.2 442.3,169.9 442.6,170.7 442.8,171.4 443.1,172.1 443.3,172.8 443.6,173.5 443.8,174.3 444.0,175.0 444.3,175.7 444.5,176.5 444.7,177.2 444.9,177.9 445.2,178.7 445.4,179.4 445.6,180.1 445.8,180.8 446.1,181.6 446.3,182.3 446.5,183.0 446.8,183.7 447.0,184.5 447.3,185.2 447.5,185.9 447.8,186.6 448.0,187.3 448.3,188.0 448.5,188.7 448.8,189.4 449.0,190.1 449.3,190.9 449.6,191.6 449.8,192.3 450.1,193.0 450.3,193.7 450.6,194.4 450.9,195.1 451.1,195.8 451.4,196.5 451.6,197.2 451.9,197.9 452.1,198.6 452.4,199.3 452.6,200.1 452.8,200.8 453.1,201.5 453.3,202.2 453.5,202.9 453.7,203.7 453.9,204.4 454.1,205.1 454.3,205.8 454.5,206.6 454.7,207.3 454.9,208.1 455.1,208.8 455.2,209.5 455.4,210.3 455.5,211.1 455.7,211.8 455.8,212.6 455.9,213.3 456.0,214.1 456.1,214.9" stroke="#f89b40"/>
<path d="M482.0,254.4 482.4,253.6 482.8,252.7 483.2,251.9 483.6,251.1 483.9,250.2 484.3,249.4 484.8,248.5 485.2,247.7 485.6,246.8 486.0,245.9 486.4,245.1 486.8,244.2 487.3,243.4 487.7,242.5 488.2,241.6 488.6,240.8 489.1,239.9 489.6,239.1 490.1,238.3 490.6,237.4 491.1,236.6 491.6,235.8 492.1,235.0 492.7,234.2 493.2,233.4 493.8,232.7 494.3,231.9 494.9,231.2 495.5,230.5 496.2,229.8 496.8,229.1 497.4,228.4 498.1,227.7 498.8,227.1 499.5,226.5 500.2,225.9 500.9,225.3 501.6,224.7 502.3,224.2 503.1,223.6 503.8,223.1 504.6,222.5 505.4,222.0 506.2,221.5 506.9,221.0 507.7,220.5 508.5,220.0 509.3,219.5 510.1,219.0 510.9,218.5 511.7,218.0 512.5,217.5 513.3,216.9 514.1,216.4 514.9,215.9 515.7,215.4 516.5,214.8 517.3,214.3 518.1,213.8 518.9,213.2 519.7,212.7 520.5,212.2 521.3,211.6 522.1,211.1 523.0,210.6 523.8,210.1 524.7,209.7 525.5,209.2 526.4,208.8 527.2,208.5 528.1,208.1 529.0,207.8 529.9,207.6 530.8,207.4 531.7,207.3 532.6,207.2 533.6,207.2 534.5,207.3 535.4,207.3 536.3,207.5 537.2,207.7 538.1,207.9 539.0,208.2 539.8,208.5 540.6,208.9 541.4,209.3 542.2,209.8 542.9,210.3 543.6,210.9 544.3,211.5 544.9,212.2 545.5,212.9 546.1,213.6 546.7,214.3 547.2,215.1 547.7,216.0 548.2,216.8 548.6,217.6 549.1,218.5 549.5,219.4 550.0,220.3 550.4,221.2 550.8,222.1 551.2,223.0 551.6,223.9 552.0,224.8 552.4,225.6 552.8,226.5 553.2,227.4 553.5,228.3 553.9,229.2 554.3,230.0 554.7,230.9 555.0,231.8 555.4,232.7 555.8,233.5 556.1,234.4 556.5,235.3 556.8,236.2 557.2,237.0 557.5,237.9 557.9,238.8 558.2,239.6 558.5,240.5 558.9,241.4 559.2,242.2 559.5,243.1 559.9,244.0 560.2,244.8 560.5,245.7 560.8,246.6 561.1,247.4 561.5,248.3 561.8,249.2 562.1,250.1 562.4,250.9 562.7,251.8 563.0,252.7 563.3,253.6 563.6,254.4 563.9,255.3 564.2,256.2 564.5,257.1 564.8,258.0 565.1,258.9 565.4,259.8 565.7,260.7 566.0,261.6 566.3,262.5 566.6,263.4 566.9,264.3 567.2,265.2 567.5,266.1 567.8,267.0 568.1,268.0 568.4,268.9 568.7,269.8 569.0,270.8 569.3,271.7" stroke="#4ea6cc"/>
<path d="M488.2,210.2 488.6,209.6 489.0,208.9 489.3,208.3 489.7,207.7 490.2,207.0 490.6,206.4 491.0,205.7 491.4,205.1 491.9,204.4 492.3,203.8 492.8,203.1 493.2,202.5 493.7,201.8 494.2,201.2 494.7,200.5 495.2,199.9 495.7,199.3 496.2,198.6 496.7,198.0 497.3,197.4 497.8,196.8 498.3,196.2 498.9,195.6 499.5,195.0 500.0,194.4 500.6,193.8 501.2,193.3 501.8,192.7 502.4,192.2 503.0,191.6 503.6,191.1 504.3,190.6 504.9,190.1 505.5,189.7 506.2,189.2 506.8,188.7 507.5,188.3 508.2,187.9 508.9,187.5 509.5,187.1 510.2,186.8 510.9,186.4 511.6,186.1 512.4,185.8 513.1,185.5 513.8,185.3 514.6,185.0 515.3,184.8 516.1,184.6 516.8,184.5 517.6,184.3 518.4,184.2 519.2,184.1 519.9,184.0 520.7,184.0 521.5,184.0 522.3,184.0 523.1,184.0 523.9,184.1 524.7,184.1 525.5,184.2 526.2,184.3 527.0,184.5 527.8,184.7 528.5,184.8 529.3,185.1 530.0,185.3 530.8,185.6 531.5,185.8 532.2,186.1 532.9,186.5 533.6,186.8 534.3,187.2 534.9,187.6 535.6,188.0 536.2,188.4 536.8,188.9 537.4,189.3 538.0,189.8 538.5,190.3 539.1,190.9 539.6,191.4 540.2,192.0 540.7,192.5 541.2,193.1 541.7,193.7 542.2,194.4 542.6,195.0 543.1,195.6 543.6,196.3 544.0,196.9 544.4,197.6 544.9,198.3 545.3,199.0 545.7,199.7 546.1,200.4 546.5,201.1 546.8,201.8 547.2,202.6 547.6,203.3 547.9,204.0 548.3,204.8 548.6,205.5 549.0,206.2 549.3,207.0 549.6,207.7 550.0,208.5 550.3,209.2 550.6,210.0 550.9,210.7 551.2,211.4 551.5,212.2 551.8,212.9 552.1,213.7 552.4,214.4 552.7,215.1 553.0,215.9 553.3,216.6 553.6,217.3 553.9,218.0 554.2,218.8 554.4,219.5 554.7,220.2 555.0,220.9 555.3,221.7 555.5,222.4 555.8,223.1 556.1,223.8 556.4,224.6 556.6,225.3 556.9,226.0 557.2,226.7 557.4,227.5 557.7,228.2 558.0,228.9 558.2,229.6 558.5,230.3 558.8,231.1 559.1,231.8 559.3,232.5 559.6,233.3 559.9,234.0 560.2,234.7 560.4,235.4 560.7,236.2 561.0,236.9 561.3,237.6 561.6,238.4 561.9,239.1 562.1,239.9 562.4,240.6 562.7,241.3 563.0,242.1 563.3,242.8 563.6,243.6 564.0,244.3 564.3,245.1 564.6,245.8 564.9,246.6" stroke="#83b626"/>
<path d="M492.5,86.2 492.9,84.9 493.3,83.6 493.6,82.2 493.9,80.9 494.2,79.6 494.6,78.2 495.0,76.9 495.4,75.5 496.0,74.2 496.7,72.9 497.5,71.6 498.5,70.4 499.6,69.3 500.8,68.4 502.0,67.9 503.1,67.6 504.3,67.7 505.5,68.0 506.7,68.5 507.9,69.2 509.0,70.0 510.1,71.0 511.1,72.0 512.1,73.0 513.1,74.1 514.0,75.2 514.9,76.3 515.7,77.4 516.5,78.5 517.3,79.7 518.1,80.8 518.8,82.0 519.5,83.2 520.2,84.4 520.9,85.6 521.6,86.8 522.4,87.9 523.1,89.1 523.8,90.3 524.5,91.5 525.2,92.7 526.0,93.9 526.7,95.0 527.5,96.2 528.3,97.3 529.2,98.5 530.0,99.6 530.8,100.7 531.7,101.9 532.5,103.0 533.3,104.1 534.2,105.3 535.0,106.4 535.8,107.5 536.6,108.7 537.4,109.9 538.2,111.0 538.9,112.2 539.7,113.4 540.4,114.6 541.1,115.8 541.7,117.0 542.4,118.2 543.0,119.4 543.6,120.7 544.2,121.9 544.8,123.2 545.4,124.5 545.9,125.7 546.4,127.0 546.9,128.3 547.4,129.6 547.9,130.9 548.4,132.2 548.8,133.5 549.3,134.8 549.7,136.1 550.1,137.5 550.5,138.8 550.9,140.1 551.3,141.5 551.7,142.8 552.1,144.2 552.4,145.5 552.8,146.9 553.1,148.2 553.5,149.6 553.8,151.0 554.1,152.3 554.4,153.7 554.7,155.1 555.1,156.4 555.4,157.8 555.7,159.2 556.0,160.5 556.3,161.9 556.6,163.3 556.9,164.6 557.1,166.0 557.4,167.4 557.7,168.7 558.0,170.1 558.3,171.5 558.6,172.8 558.9,174.2 559.1,175.6 559.4,176.9 559.7,178.3 559.9,179.7 560.2,181.0 560.5,182.4 560.7,183.8 561.0,185.1 561.3,186.5 561.5,187.9 561.8,189.2 562.1,190.6 562.3,192.0 562.6,193.3 562.8,194.7 563.1,196.1 563.3,197.4 563.6,198.8 563.8,200.2 564.1,201.5 564.3,202.9 564.6,204.3 564.8,205.6 565.1,207.0 565.3,208.4 565.6,209.7 565.8,211.1 566.0,212.5 566.3,213.8 566.5,215.2 566.8,216.6 567.0,218.0 567.3,219.3 567.5,220.7 567.7,222.1 568.0,223.4 568.2,224.8 568.5,226.2 568.7,227.6 568.9,228.9 569.2,230.3 569.4,231.7 569.6,233.0 569.9,234.4 570.1,235.8 570.4,237.2 570.6,238.6 570.8,239.9 571.1,241.3 571.3,242.7 571.6,244.1 571.8,245.4 572.1,246.8 572.3,248.2" stroke="#e9343a"/>
<path d="M495.5,129.5 496.2,128.6 497.0,127.8 497.8,127.1 498.5,126.6 499.3,126.2 500.1,125.9 501.0,125.7 501.8,125.5 502.6,125.5 503.4,125.6 504.2,125.7 505.0,125.9 505.8,126.2 506.6,126.6 507.4,127.0 508.2,127.4 508.9,128.0 509.7,128.5 510.4,129.1 511.1,129.7 511.9,130.3 512.5,131.0 513.2,131.7 513.9,132.4 514.5,133.1 515.2,133.8 515.8,134.5 516.4,135.3 517.0,136.0 517.6,136.8 518.2,137.5 518.7,138.3 519.3,139.1 519.9,139.8 520.5,140.6 521.0,141.4 521.6,142.1 522.2,142.9 522.7,143.6 523.3,144.4 523.9,145.1 524.5,145.9 525.0,146.6 525.6,147.3 526.2,148.0 526.8,148.8 527.4,149.5 527.9,150.2 528.5,150.9 529.1,151.6 529.7,152.3 530.3,153.1 530.8,153.8 531.4,154.5 532.0,155.2 532.5,155.9 533.1,156.6 533.6,157.4 534.2,158.1 534.7,158.8 535.3,159.6 535.8,160.3 536.4,161.1 536.9,161.8 537.4,162.6 537.9,163.4 538.4,164.2 538.9,164.9 539.4,165.7 539.9,166.5 540.4,167.3 540.9,168.1 541.3,168.9 541.8,169.7 542.3,170.6 542.7,171.4 543.2,172.2 543.6,173.0 544.0,173.9 544.4,174.7 544.9,175.5 545.3,176.4 545.7,177.2 546.1,178.1 546.4,178.9 546.8,179.8 547.2,180.7 547.5,181.5 547.9,182.4 548.2,183.3 548.6,184.1 548.9,185.0 549.2,185.9 549.5,186.8 549.8,187.6 550.1,188.5 550.4,189.4 550.7,190.3 551.0,191.2 551.3,192.1 551.5,193.0 551.8,193.8 552.1,194.7 552.3,195.6 552.6,196.5 552.8,197.4 553.1,198.3 553.3,199.2 553.6,200.1 553.8,201.0 554.0,201.9 554.3,202.8 554.5,203.7 554.8,204.6 555.0,205.5 555.3,206.4 555.5,207.3 555.8,208.2 556.1,209.1 556.3,210.0 556.6,210.9 556.9,211.8 557.2,212.6 557.5,213.5 557.7,214.4 558.0,215.3 558.3,216.2 558.6,217.1 558.9,218.0 559.2,218.8 559.5,219.7 559.8,220.6 560.1,221.5 560.4,222.4 560.7,223.3 561.0,224.2 561.3,225.1 561.5,225.9 561.8,226.8 562.1,227.7 562.4,228.6 562.6,229.5 562.9,230.4 563.2,231.3 563.4,232.2 563.6,233.1 563.9,234.0 564.1,234.9 564.3,235.8 564.5,236.7 564.8,237.6 564.9,238.5 565.1,239.5 565.3,240.4 565.5,241.3 565.6,242.2 565.8,243.1 565.9,244.1 566.0,245.0" stroke="#f89b40"/>
<path d="M592.2,342.5 592.7,342.3 593.2,342.1 593.7,341.8 594.2,341.6 594.8,341.4 595.3,341.2 595.8,341.0 596.3,340.8 596.8,340.6 597.3,340.3 597.9,340.1 598.4,339.9 598.9,339.7 599.4,339.5 600.0,339.3 600.5,339.1 601.0,338.9 601.6,338.7 602.1,338.5 602.6,338.3 603.2,338.1 603.7,337.9 604.3,337.7 604.8,337.5 605.3,337.3 605.9,337.1 606.4,336.9 607.0,336.7 607.5,336.5 608.1,336.3 608.6,336.1 609.2,335.9 609.7,335.8 610.3,335.6 610.8,335.4 611.4,335.2 611.9,335.1 612.5,334.9 613.0,334.7 613.6,334.5 614.2,334.4 614.7,334.2 615.3,334.1 615.8,333.9 616.4,333.8 617.0,333.6 617.5,333.5 618.1,333.3 618.7,333.2 619.2,333.0 619.8,332.9 620.3,332.8 620.9,332.6 621.5,332.5 622.0,332.4 622.6,332.3 623.2,332.2 623.7,332.1 624.3,332.0 624.9,331.9 625.4,331.8 626.0,331.7 626.6,331.6 627.1,331.5 627.7,331.4 628.3,331.3 628.9,331.2 629.4,331.2 630.0,331.1 630.6,331.0 631.1,331.0 631.7,330.9 632.3,330.9 632.8,330.8 633.4,330.8 634.0,330.8 634.5,330.7 635.1,330.7 635.7,330.7 636.2,330.7 636.8,330.7 637.4,330.7 637.9,330.7 638.5,330.7 639.1,330.7 639.6,330.7 640.2,330.7 640.8,330.8 641.3,330.8 641.9,330.8 642.5,330.9 643.0,330.9 643.6,331.0 644.1,331.0 644.7,331.1 645.3,331.2 645.8,331.3 646.4,331.3 646.9,331.4 647.5,331.5 648.0,331.6 648.6,331.8 649.1,331.9 649.7,332.0 650.2,332.1 650.8,332.3 651.3,332.4 651.9,332.6 652.4,332.7 653.0,332.9 653.5,333.0 654.1,333.2 654.6,333.4 655.1,333.6 655.7,333.8 656.2,334.0 656.7,334.2 657.2,334.4 657.8,334.6 658.3,334.8 658.8,335.1 659.4,335.3 659.9,335.5 660.4,335.8 660.9,336.0 661.4,336.3 662.0,336.5 662.5,336.8 663.0,337.0 663.5,337.3 664.0,337.5 664.6,337.8 665.1,338.0 665.6,338.3 666.1,338.5 666.6,338.8 667.2,339.0 667.7,339.2 668.2,339.5 668.7,339.7 669.2,339.9 669.8,340.2 670.3,340.4 670.8,340.6 671.4,340.8 671.9,341.0 672.4,341.2 673.0,341.4 673.5,341.6 674.1,341.7 674.6,341.9 675.2,342.1 675.7,342.2 676.3,342.3 676.8,342.4 677.4,342.6 678.0,342.7 678.5,342.7 679.1,342.8" stroke="#4ea6cc"/>
<path d="M598.1,321.5 598.5,321.1 599.0,320.8 599.4,320.5 599.9,320.2 600.4,319.8 600.8,319.5 601.3,319.3 601.7,319.0 602.2,318.7 602.7,318.5 603.1,318.2 603.6,318.0 604.1,317.8 604.6,317.6 605.1,317.4 605.5,317.2 606.0,317.0 606.5,316.8 607.0,316.7 607.5,316.5 608.0,316.4 608.4,316.3 608.9,316.1 609.4,316.0 609.9,315.9 610.4,315.8 610.9,315.8 611.4,315.7 611.9,315.6 612.4,315.6 612.9,315.5 613.4,315.5 613.9,315.5 614.4,315.4 614.9,315.4 615.4,315.4 615.9,315.4 616.4,315.4 616.9,315.5 617.4,315.5 617.9,315.5 618.4,315.6 618.9,315.6 619.4,315.7 619.9,315.7 620.4,315.8 620.9,315.9 621.4,316.0 621.9,316.1 622.4,316.2 622.9,316.3 623.3,316.4 623.8,316.5 624.3,316.6 624.8,316.8 625.3,316.9 625.8,317.0 626.3,317.2 626.8,317.3 627.3,317.5 627.8,317.7 628.3,317.8 628.8,318.0 629.2,318.2 629.7,318.3 630.2,318.5 630.7,318.7 631.2,318.9 631.7,319.1 632.1,319.3 632.6,319.5 633.1,319.7 633.6,319.9 634.1,320.1 634.5,320.3 635.0,320.5 635.5,320.7 636.0,320.9 636.4,321.2 636.9,321.4 637.4,321.6 637.9,321.8 638.3,322.1 638.8,322.3 639.3,322.5 639.7,322.7 640.2,323.0 640.7,323.2 641.1,323.4 641.6,323.7 642.1,323.9 642.5,324.1 643.0,324.4 643.5,324.6 643.9,324.9 644.4,325.1 644.8,325.3 645.3,325.6 645.8,325.8 646.2,326.0 646.7,326.3 647.1,326.5 647.6,326.7 648.1,327.0 648.5,327.2 649.0,327.4 649.5,327.7 649.9,327.9 650.4,328.1 650.8,328.4 651.3,328.6 651.8,328.8 652.2,329.0 652.7,329.3 653.2,329.5 653.6,329.7 654.1,329.9 654.6,330.1 655.0,330.3 655.5,330.6 656.0,330.8 656.4,331.0 656.9,331.2 657.4,331.4 657.8,331.6 658.3,331.8 658.8,332.0 659.3,332.1 659.7,332.3 660.2,332.5 660.7,332.7 661.2,332.9 661.7,333.0 662.2,333.2 662.6,333.4 663.1,333.5 663.6,333.7 664.1,333.8 664.6,334.0 665.1,334.1 665.6,334.2 666.1,334.4 666.6,334.5 667.1,334.6 667.6,334.7 668.1,334.8 668.6,335.0 669.1,335.1 669.6,335.2 670.1,335.2 670.6,335.3 671.1,335.4 671.6,335.5 672.2,335.5 672.7,335.6 673.2,335.7 673.7,335.7 674.3,335.8 674.8,335.8" stroke="#83b626"/>
<path d="M602.5,153.0 602.9,151.4 603.3,149.9 603.6,148.4 603.9,146.8 604.2,145.4 604.5,143.9 604.8,142.4 605.0,140.9 605.3,139.5 605.6,138.0 605.9,136.6 606.3,135.1 606.7,133.7 607.2,132.2 607.8,130.7 608.4,129.3 609.2,127.8 610.0,126.2 610.9,124.8 611.9,123.4 613.0,122.3 614.2,121.7 615.3,121.5 616.6,122.0 617.8,122.9 619.0,124.0 620.1,125.1 621.1,126.2 622.2,127.4 623.1,128.6 624.0,129.8 624.9,131.0 625.8,132.3 626.6,133.6 627.4,134.9 628.1,136.3 628.9,137.6 629.6,139.0 630.3,140.3 631.0,141.7 631.7,143.1 632.3,144.5 633.0,145.9 633.7,147.3 634.4,148.7 635.1,150.0 635.8,151.4 636.5,152.8 637.2,154.2 637.9,155.6 638.6,157.0 639.2,158.3 639.9,159.7 640.6,161.1 641.3,162.5 642.0,163.9 642.6,165.3 643.3,166.7 644.0,168.1 644.6,169.5 645.3,170.9 645.9,172.3 646.5,173.7 647.1,175.1 647.8,176.5 648.3,177.9 648.9,179.3 649.5,180.7 650.1,182.2 650.6,183.6 651.1,185.0 651.7,186.5 652.2,187.9 652.7,189.4 653.2,190.8 653.6,192.3 654.1,193.7 654.6,195.2 655.0,196.6 655.5,198.1 655.9,199.6 656.3,201.0 656.7,202.5 657.1,204.0 657.5,205.5 657.9,207.0 658.3,208.4 658.7,209.9 659.0,211.4 659.4,212.9 659.8,214.4 660.1,215.9 660.4,217.4 660.8,218.9 661.1,220.4 661.4,221.9 661.8,223.4 662.1,224.9 662.4,226.4 662.7,227.9 663.0,229.4 663.3,230.9 663.6,232.4 663.9,234.0 664.2,235.5 664.5,237.0 664.8,238.5 665.0,240.0 665.3,241.5 665.6,243.0 665.9,244.6 666.2,246.1 666.4,247.6 666.7,249.1 667.0,250.6 667.3,252.2 667.5,253.7 667.8,255.2 668.1,256.7 668.4,258.2 668.6,259.8 668.9,261.3 669.2,262.8 669.5,264.3 669.8,265.8 670.1,267.4 670.3,268.9 670.6,270.4 670.9,271.9 671.2,273.4 671.5,274.9 671.8,276.4 672.1,277.9 672.5,279.5 672.8,281.0 673.1,282.5 673.4,284.0 673.8,285.5 674.1,287.0 674.5,288.5 674.8,290.0 675.2,291.5 675.5,293.0 675.9,294.4 676.3,295.9 676.7,297.4 677.1,298.9 677.5,300.4 677.9,301.9 678.3,303.3 678.7,304.8 679.2,306.3 679.6,307.8 680.1,309.2 680.5,310.7 681.0,312.1 681.5,313.6 682.0,315.0 682.5,316.5" stroke="#e9343a"/>
<path d="M605.3,222.4 606.2,222.1 607.0,221.9 607.8,221.9 608.5,222.0 609.2,222.2 609.9,222.4 610.5,222.8 611.1,223.3 611.6,223.8 612.1,224.3 612.6,224.9 613.1,225.6 613.6,226.3 614.0,227.0 614.4,227.7 614.9,228.4 615.3,229.1 615.6,229.8 616.0,230.6 616.4,231.3 616.7,232.1 617.1,232.8 617.4,233.6 617.8,234.4 618.1,235.2 618.4,235.9 618.7,236.7 619.0,237.5 619.3,238.3 619.6,239.1 619.9,239.9 620.2,240.7 620.5,241.5 620.8,242.3 621.1,243.1 621.4,243.9 621.7,244.7 621.9,245.4 622.2,246.2 622.5,247.0 622.8,247.8 623.1,248.6 623.4,249.4 623.7,250.1 624.0,250.9 624.3,251.7 624.6,252.5 624.9,253.2 625.1,254.0 625.4,254.8 625.7,255.6 626.0,256.3 626.3,257.1 626.6,257.9 626.9,258.6 627.2,259.4 627.5,260.2 627.8,260.9 628.1,261.7 628.4,262.5 628.7,263.2 629.0,264.0 629.3,264.8 629.6,265.5 629.9,266.3 630.2,267.1 630.5,267.8 630.8,268.6 631.1,269.3 631.4,270.1 631.7,270.9 632.0,271.6 632.3,272.4 632.6,273.1 632.9,273.9 633.3,274.7 633.6,275.4 633.9,276.2 634.2,276.9 634.5,277.7 634.8,278.5 635.2,279.2 635.5,280.0 635.8,280.7 636.1,281.5 636.5,282.3 636.8,283.0 637.1,283.8 637.5,284.5 637.8,285.3 638.1,286.1 638.5,286.8 638.8,287.6 639.2,288.3 639.5,289.1 639.9,289.8 640.3,290.6 640.6,291.3 641.0,292.1 641.4,292.8 641.8,293.5 642.2,294.3 642.6,295.0 643.0,295.7 643.4,296.4 643.8,297.2 644.2,297.9 644.6,298.6 645.0,299.3 645.5,300.0 645.9,300.7 646.4,301.4 646.8,302.0 647.3,302.7 647.8,303.4 648.2,304.1 648.7,304.7 649.2,305.4 649.7,306.0 650.3,306.6 650.8,307.3 651.3,307.9 651.9,308.5 652.4,309.1 653.0,309.7 653.6,310.3 654.1,310.9 654.7,311.5 655.3,312.0 656.0,312.6 656.6,313.1 657.2,313.6 657.9,314.2 658.5,314.7 659.2,315.2 659.9,315.7 660.5,316.2 661.2,316.7 661.9,317.2 662.6,317.7 663.3,318.1 664.0,318.6 664.7,319.1 665.4,319.5 666.1,320.0 666.8,320.4 667.5,320.8 668.3,321.3 669.0,321.7 669.7,322.1 670.4,322.5 671.1,323.0 671.8,323.4 672.5,323.8 673.2,324.2 673.9,324.6 674.6,325.0 675.3,325.4 676.0,325.8" stroke="#f89b40"/>
</g>
</svg></body></html>
